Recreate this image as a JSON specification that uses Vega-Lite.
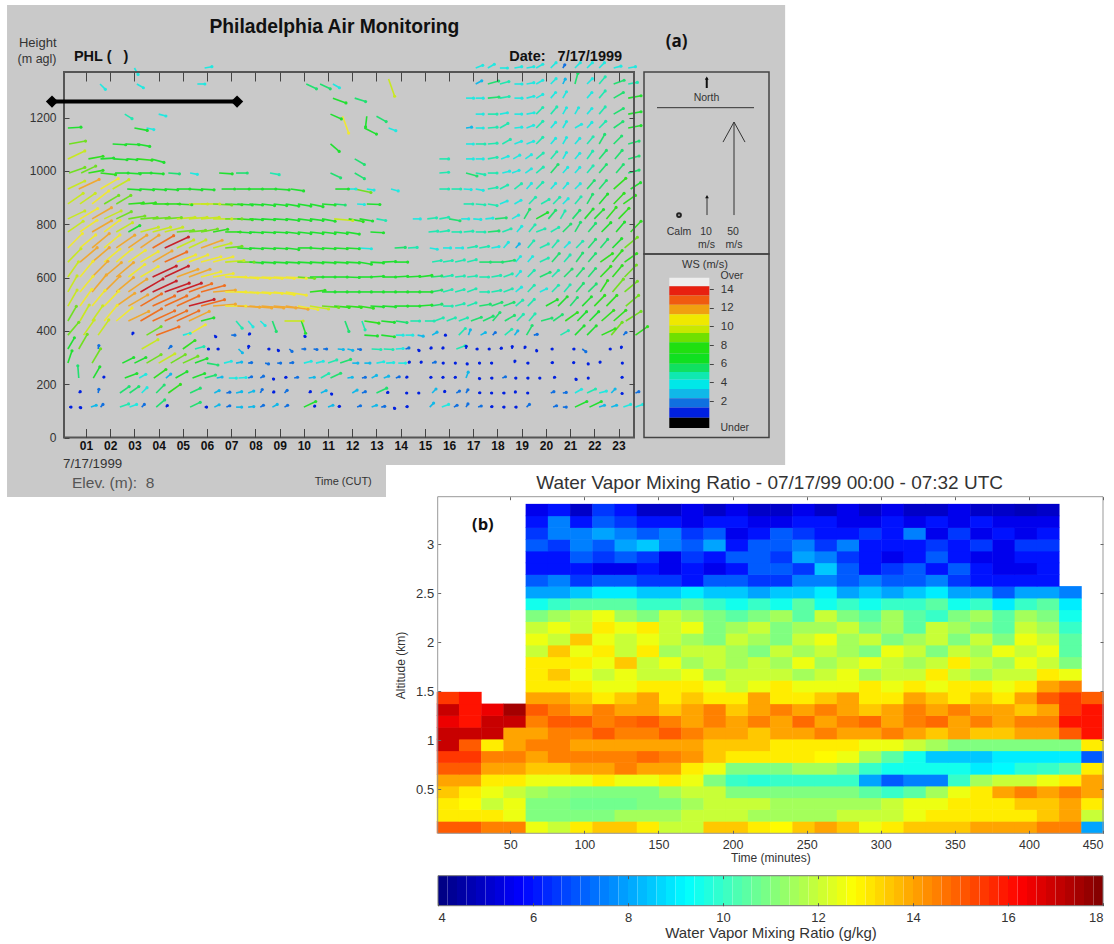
{"$schema":"https://vega.github.io/schema/vega-lite/v6.json","width":1114,"height":944,"autosize":"none","padding":0,"background":"white","data":{"values":[{}]},
"config":{"view":{"stroke":null},"font":"Liberation Sans","axis":{"grid":false,"title":null}},
"resolve":{"scale":{"x":"independent","y":"independent","color":"independent"},"axis":{"x":"independent","y":"independent"}},
"datasets":{"wind":[
{"t":0.3,"z":114,"e":0.38,"f":114,"s":1},{"t":0.7,"z":114,"e":0.78,"f":112,"s":1},{"t":1.2,"z":114,"e":1.42,"f":121,"s":3},{"t":1.6,"z":114,"e":1.7,"f":124,"s":2},{"t":2.4,"z":114,"e":2.76,"f":126,"s":5},{"t":2.8,"z":114,"e":3.09,"f":124,"s":4},{"t":3.3,"z":114,"e":3.41,"f":124,"s":2},{"t":3.9,"z":114,"e":4.25,"f":141,"s":6},{"t":4.3,"z":114,"e":4.36,"f":120,"s":1},{"t":5.3,"z":114,"e":5.72,"f":132,"s":6},{"t":5.9,"z":114,"e":5.98,"f":114,"s":1},{"t":6.3,"z":114,"e":6.5,"f":123,"s":3},{"t":6.8,"z":114,"e":6.94,"f":119,"s":2},{"t":7.2,"z":114,"e":7.43,"f":114,"s":3},{"t":7.7,"z":114,"e":7.93,"f":116,"s":3},{"t":8.2,"z":114,"e":8.33,"f":121,"s":2},{"t":8.7,"z":114,"e":8.9,"f":124,"s":3},{"t":9.2,"z":114,"e":9.33,"f":121,"s":2},{"t":10,"z":114,"e":10.49,"f":135,"s":7},{"t":10.4,"z":114,"e":10.45,"f":118,"s":1},{"t":11,"z":114,"e":11.2,"f":121,"s":3},{"t":11.4,"z":114,"e":11.47,"f":117,"s":1},{"t":12.2,"z":114,"e":12.34,"f":119,"s":2},{"t":12.8,"z":114,"e":13,"f":121,"s":3},{"t":13.2,"z":114,"e":13.34,"f":117,"s":2},{"t":13.7,"z":114,"e":13.75,"f":109,"s":1},{"t":14.2,"z":114,"e":14.27,"f":116,"s":1},{"t":15.2,"z":114,"e":15.36,"f":129,"s":3},{"t":15.7,"z":114,"e":15.98,"f":124,"s":4},{"t":16.2,"z":114,"e":16.33,"f":121,"s":2},{"t":16.7,"z":114,"e":16.78,"f":126,"s":2},{"t":17.2,"z":114,"e":17.33,"f":118,"s":2},{"t":17.7,"z":114,"e":17.77,"f":116,"s":1},{"t":18.2,"z":114,"e":18.27,"f":114,"s":1},{"t":18.7,"z":114,"e":18.77,"f":114,"s":1},{"t":19.2,"z":114,"e":19.32,"f":124,"s":2},{"t":20.3,"z":114,"e":20.44,"f":119,"s":2},{"t":20.7,"z":114,"e":20.84,"f":114,"s":2},{"t":21.2,"z":114,"e":21.69,"f":135,"s":7},{"t":21.8,"z":114,"e":22.29,"f":135,"s":7},{"t":22.2,"z":114,"e":22.42,"f":121,"s":3},{"t":22.7,"z":114,"e":22.92,"f":121,"s":3},{"t":23.2,"z":114,"e":23.5,"f":124,"s":4},{"t":23.7,"z":114,"e":24,"f":124,"s":4},
{"t":0.7,"z":167,"e":0.76,"f":172,"s":1},{"t":1.5,"z":167,"e":1.53,"f":181,"s":2},{"t":2.4,"z":167,"e":2.78,"f":191,"s":6},{"t":2.8,"z":167,"e":3.18,"f":191,"s":6},{"t":3.3,"z":167,"e":3.52,"f":187,"s":4},{"t":3.9,"z":167,"e":4.23,"f":197,"s":6},{"t":4.4,"z":167,"e":4.9,"f":199,"s":8},{"t":5.3,"z":167,"e":5.72,"f":185,"s":6},{"t":6.3,"z":167,"e":6.5,"f":176,"s":3},{"t":6.8,"z":167,"e":6.94,"f":170,"s":2},{"t":7.2,"z":167,"e":7.43,"f":172,"s":3},{"t":7.7,"z":167,"e":7.93,"f":174,"s":3},{"t":8.2,"z":167,"e":8.28,"f":180,"s":2},{"t":8.7,"z":167,"e":8.76,"f":171,"s":1},{"t":9.2,"z":167,"e":9.31,"f":177,"s":2},{"t":10.2,"z":167,"e":10.27,"f":172,"s":1},{"t":10.7,"z":167,"e":10.92,"f":176,"s":3},{"t":11.1,"z":167,"e":11.15,"f":163,"s":1},{"t":12,"z":167,"e":12.2,"f":178,"s":3},{"t":12.4,"z":167,"e":12.54,"f":172,"s":2},{"t":13,"z":167,"e":13.42,"f":185,"s":6},{"t":13.4,"z":167,"e":13.47,"f":169,"s":1},{"t":14.2,"z":167,"e":14.25,"f":167,"s":1},{"t":14.7,"z":167,"e":14.75,"f":167,"s":1},{"t":15.3,"z":167,"e":15.46,"f":182,"s":3},{"t":15.8,"z":167,"e":15.82,"f":173,"s":1},{"t":16.3,"z":167,"e":16.43,"f":174,"s":2},{"t":16.7,"z":167,"e":16.78,"f":179,"s":2},{"t":17.2,"z":167,"e":17.27,"f":168,"s":1},{"t":17.7,"z":167,"e":17.76,"f":167,"s":1},{"t":18.2,"z":167,"e":18.27,"f":167,"s":1},{"t":18.7,"z":167,"e":18.74,"f":171,"s":1},{"t":19.2,"z":167,"e":19.25,"f":167,"s":1},{"t":20.2,"z":167,"e":20.33,"f":172,"s":2},{"t":20.7,"z":167,"e":20.84,"f":169,"s":2},{"t":21.2,"z":167,"e":21.47,"f":181,"s":4},{"t":21.7,"z":167,"e":22.05,"f":182,"s":5},{"t":22.2,"z":167,"e":22.5,"f":174,"s":4},{"t":22.7,"z":167,"e":22.86,"f":182,"s":3},{"t":23.1,"z":167,"e":23.15,"f":165,"s":1},{"t":23.7,"z":167,"e":23.84,"f":172,"s":2},
{"t":0.7,"z":223,"e":0.66,"f":269,"s":6},{"t":1.3,"z":223,"e":1.57,"f":265,"s":7},{"t":1.7,"z":223,"e":1.74,"f":227,"s":1},{"t":2.6,"z":223,"e":3.1,"f":240,"s":7},{"t":3.2,"z":223,"e":3.47,"f":237,"s":4},{"t":3.8,"z":223,"e":4.3,"f":255,"s":8},{"t":4.3,"z":223,"e":4.5,"f":238,"s":3},{"t":4.7,"z":223,"e":5.17,"f":247,"s":7},{"t":5.4,"z":223,"e":5.9,"f":240,"s":7},{"t":5.9,"z":223,"e":6.35,"f":234,"s":6},{"t":6.4,"z":223,"e":6.62,"f":227,"s":3},{"t":6.9,"z":223,"e":7.21,"f":223,"s":4},{"t":7.3,"z":223,"e":7.61,"f":225,"s":4},{"t":7.7,"z":223,"e":7.84,"f":228,"s":2},{"t":8.2,"z":223,"e":8.33,"f":230,"s":2},{"t":8.7,"z":223,"e":8.75,"f":219,"s":1},{"t":9.2,"z":223,"e":9.26,"f":226,"s":1},{"t":9.6,"z":223,"e":9.74,"f":226,"s":2},{"t":10.2,"z":223,"e":10.43,"f":226,"s":3},{"t":10.7,"z":223,"e":11.03,"f":240,"s":5},{"t":11.1,"z":223,"e":11.52,"f":241,"s":6},{"t":11.8,"z":223,"e":12,"f":226,"s":3},{"t":12.4,"z":223,"e":12.54,"f":226,"s":2},{"t":12.8,"z":223,"e":13,"f":233,"s":3},{"t":13.3,"z":223,"e":13.5,"f":230,"s":3},{"t":13.8,"z":223,"e":13.94,"f":228,"s":2},{"t":14.2,"z":223,"e":14.26,"f":227,"s":1},{"t":15.2,"z":223,"e":15.25,"f":226,"s":1},{"t":15.7,"z":223,"e":15.75,"f":226,"s":1},{"t":16.2,"z":223,"e":16.26,"f":226,"s":1},{"t":16.7,"z":223,"e":16.79,"f":245,"s":3},{"t":17.2,"z":223,"e":17.26,"f":221,"s":1},{"t":17.7,"z":223,"e":17.77,"f":223,"s":1},{"t":18.2,"z":223,"e":18.33,"f":228,"s":2},{"t":18.7,"z":223,"e":18.76,"f":223,"s":1},{"t":19.2,"z":223,"e":19.26,"f":223,"s":1},{"t":19.7,"z":223,"e":19.75,"f":223,"s":1},{"t":20.3,"z":223,"e":20.36,"f":226,"s":1},{"t":21.2,"z":223,"e":21.25,"f":218,"s":1},{"t":21.7,"z":223,"e":21.75,"f":223,"s":1},{"t":23.1,"z":223,"e":23.15,"f":226,"s":1},
{"t":0.25,"z":279,"e":0.42,"f":325,"s":7},{"t":1.25,"z":279,"e":1.6,"f":333,"s":9},{"t":2.5,"z":279,"e":2.97,"f":300,"s":7},{"t":3,"z":279,"e":3.47,"f":300,"s":7},{"t":3.5,"z":279,"e":4.1,"f":311,"s":9},{"t":4,"z":279,"e":4.67,"f":314,"s":10},{"t":4.5,"z":279,"e":5.1,"f":311,"s":9},{"t":5,"z":279,"e":5.62,"f":305,"s":9},{"t":5.5,"z":279,"e":6,"f":296,"s":7},{"t":6,"z":279,"e":6.45,"f":272,"s":6},{"t":6.7,"z":279,"e":7,"f":286,"s":4},{"t":7.2,"z":279,"e":7.43,"f":283,"s":3},{"t":7.7,"z":279,"e":7.84,"f":281,"s":2},{"t":8.4,"z":279,"e":8.54,"f":276,"s":2},{"t":8.9,"z":279,"e":9.04,"f":279,"s":2},{"t":9.4,"z":279,"e":9.54,"f":281,"s":2},{"t":10,"z":279,"e":10.3,"f":286,"s":4},{"t":10.5,"z":279,"e":10.8,"f":286,"s":4},{"t":11,"z":279,"e":11.36,"f":291,"s":5},{"t":11.5,"z":279,"e":11.93,"f":293,"s":6},{"t":12,"z":279,"e":12.23,"f":279,"s":3},{"t":12.5,"z":279,"e":12.73,"f":279,"s":3},{"t":13,"z":279,"e":13.3,"f":284,"s":4},{"t":13.4,"z":279,"e":13.71,"f":281,"s":4},{"t":13.9,"z":279,"e":14.2,"f":279,"s":4},{"t":14.3,"z":279,"e":14.36,"f":283,"s":1},{"t":14.8,"z":279,"e":14.85,"f":283,"s":1},{"t":15.3,"z":279,"e":15.43,"f":283,"s":2},{"t":15.7,"z":279,"e":15.76,"f":279,"s":1},{"t":16.2,"z":279,"e":16.26,"f":279,"s":1},{"t":16.7,"z":279,"e":16.75,"f":276,"s":1},{"t":17.2,"z":279,"e":17.26,"f":279,"s":1},{"t":17.7,"z":279,"e":17.76,"f":279,"s":1},{"t":18.7,"z":279,"e":18.72,"f":287,"s":1},{"t":19.2,"z":279,"e":19.26,"f":279,"s":1},{"t":20.2,"z":279,"e":20.27,"f":281,"s":1},{"t":21.1,"z":279,"e":21.15,"f":281,"s":1},{"t":21.7,"z":279,"e":21.75,"f":276,"s":1},{"t":22.2,"z":279,"e":22.24,"f":283,"s":1},{"t":23.1,"z":279,"e":23.16,"f":279,"s":1},
{"t":0.25,"z":332,"e":0.52,"f":374,"s":7},{"t":0.7,"z":332,"e":1.05,"f":387,"s":9},{"t":1.5,"z":332,"e":1.53,"f":345,"s":2},{"t":3.3,"z":332,"e":3.97,"f":367,"s":10},{"t":4.4,"z":332,"e":4.51,"f":342,"s":2},{"t":5,"z":332,"e":5.5,"f":364,"s":8},{"t":5.5,"z":332,"e":5.87,"f":341,"s":5},{"t":6,"z":332,"e":6.06,"f":332,"s":1},{"t":6.4,"z":332,"e":6.46,"f":332,"s":1},{"t":7.3,"z":332,"e":7.46,"f":318,"s":3},{"t":7.7,"z":332,"e":7.72,"f":342,"s":1},{"t":8.5,"z":332,"e":8.56,"f":332,"s":1},{"t":8.9,"z":332,"e":8.95,"f":326,"s":1},{"t":9.4,"z":332,"e":9.51,"f":323,"s":2},{"t":9.9,"z":332,"e":10.04,"f":332,"s":2},{"t":10.4,"z":332,"e":10.54,"f":330,"s":2},{"t":10.8,"z":332,"e":10.94,"f":332,"s":2},{"t":11.4,"z":332,"e":11.63,"f":330,"s":3},{"t":11.8,"z":332,"e":12.02,"f":327,"s":3},{"t":12.2,"z":332,"e":12.34,"f":330,"s":2},{"t":12.8,"z":332,"e":13.18,"f":330,"s":5},{"t":13.3,"z":332,"e":13.68,"f":330,"s":5},{"t":13.8,"z":332,"e":14.1,"f":334,"s":4},{"t":14.2,"z":332,"e":14.34,"f":336,"s":2},{"t":14.7,"z":332,"e":14.76,"f":326,"s":1},{"t":15.2,"z":332,"e":15.26,"f":336,"s":1},{"t":15.7,"z":332,"e":15.75,"f":336,"s":1},{"t":16.3,"z":332,"e":16.66,"f":344,"s":5},{"t":16.7,"z":332,"e":16.71,"f":342,"s":1},{"t":17.1,"z":332,"e":17.16,"f":332,"s":1},{"t":17.6,"z":332,"e":17.66,"f":332,"s":1},{"t":18.1,"z":332,"e":18.16,"f":335,"s":1},{"t":18.6,"z":332,"e":18.61,"f":341,"s":1},{"t":19.1,"z":332,"e":19.14,"f":339,"s":1},{"t":19.6,"z":332,"e":19.62,"f":325,"s":1},{"t":20.2,"z":332,"e":20.26,"f":332,"s":1},{"t":21.1,"z":332,"e":21.16,"f":332,"s":1},{"t":21.5,"z":332,"e":21.65,"f":322,"s":2},{"t":22.6,"z":332,"e":22.66,"f":332,"s":1},{"t":23.1,"z":332,"e":23.12,"f":339,"s":1},
{"t":0.25,"z":384,"e":0.7,"f":432,"s":9},{"t":0.9,"z":384,"e":1.34,"f":441,"s":10},{"t":1.5,"z":384,"e":1.94,"f":441,"s":10},{"t":2.9,"z":384,"e":2.94,"f":392,"s":1},{"t":3.5,"z":384,"e":4.1,"f":416,"s":9},{"t":3.9,"z":384,"e":4.84,"f":415,"s":13},{"t":5,"z":384,"e":5.3,"f":391,"s":4},{"t":5.2,"z":384,"e":5.93,"f":423,"s":11},{"t":6.3,"z":384,"e":6.36,"f":378,"s":1},{"t":7,"z":384,"e":7.15,"f":384,"s":2},{"t":7.7,"z":384,"e":7.76,"f":389,"s":1},{"t":10,"z":384,"e":10.05,"f":379,"s":1},{"t":12.5,"z":384,"e":13.04,"f":381,"s":7},{"t":13.2,"z":384,"e":13.74,"f":378,"s":7},{"t":13.8,"z":384,"e":14.1,"f":384,"s":4},{"t":14.2,"z":384,"e":14.5,"f":384,"s":4},{"t":14.7,"z":384,"e":14.93,"f":380,"s":3},{"t":15.3,"z":384,"e":15.5,"f":395,"s":3},{"t":15.8,"z":384,"e":15.85,"f":384,"s":1},{"t":16.4,"z":384,"e":16.67,"f":409,"s":5},{"t":16.8,"z":384,"e":16.88,"f":404,"s":3},{"t":17.3,"z":384,"e":17.5,"f":394,"s":3},{"t":17.8,"z":384,"e":17.91,"f":394,"s":2},{"t":18.3,"z":384,"e":18.59,"f":406,"s":5},{"t":18.7,"z":384,"e":18.84,"f":400,"s":3},{"t":19.2,"z":384,"e":19.43,"f":420,"s":6},{"t":19.5,"z":384,"e":19.64,"f":387,"s":2},{"t":20.6,"z":384,"e":20.93,"f":401,"s":5},{"t":21.2,"z":384,"e":21.58,"f":419,"s":7},{"t":21.7,"z":384,"e":22.08,"f":419,"s":7},{"t":22.3,"z":384,"e":22.86,"f":408,"s":8},{"t":22.7,"z":384,"e":23.15,"f":432,"s":9},{"t":23.2,"z":384,"e":23.31,"f":394,"s":2},{"t":23.7,"z":384,"e":24.2,"f":416,"s":8},
{"t":0.25,"z":437,"e":0.6,"f":492,"s":9},{"t":0.75,"z":437,"e":1.13,"f":497,"s":10},{"t":1.25,"z":437,"e":1.69,"f":494,"s":10},{"t":1.75,"z":437,"e":2.29,"f":496,"s":11},{"t":2.25,"z":437,"e":2.9,"f":486,"s":11},{"t":2.75,"z":437,"e":3.59,"f":473,"s":12},{"t":3.25,"z":437,"e":4.12,"f":483,"s":13},{"t":3.75,"z":437,"e":4.66,"f":475,"s":13},{"t":4.25,"z":437,"e":5.16,"f":475,"s":13},{"t":4.75,"z":437,"e":5.66,"f":475,"s":13},{"t":5.25,"z":437,"e":6.09,"f":473,"s":12},{"t":5.75,"z":437,"e":6.28,"f":449,"s":7},{"t":7.2,"z":437,"e":7.45,"f":410,"s":5},{"t":7.7,"z":437,"e":7.9,"f":415,"s":4},{"t":8.2,"z":437,"e":8.4,"f":420,"s":4},{"t":8.7,"z":437,"e":8.86,"f":398,"s":6},{"t":9.2,"z":437,"e":9.97,"f":437,"s":10},{"t":9.9,"z":437,"e":10.07,"f":391,"s":7},{"t":11.7,"z":437,"e":11.86,"f":398,"s":6},{"t":12.4,"z":437,"e":12.53,"f":404,"s":5},{"t":12.5,"z":437,"e":13.1,"f":429,"s":8},{"t":13.2,"z":437,"e":13.74,"f":432,"s":7},{"t":13.8,"z":437,"e":14.26,"f":431,"s":6},{"t":14.4,"z":437,"e":14.78,"f":437,"s":5},{"t":15,"z":437,"e":15.38,"f":437,"s":5},{"t":15.4,"z":437,"e":15.76,"f":449,"s":5},{"t":15.9,"z":437,"e":16.26,"f":449,"s":5},{"t":16.4,"z":437,"e":16.76,"f":449,"s":5},{"t":16.9,"z":437,"e":17.33,"f":451,"s":6},{"t":17.4,"z":437,"e":17.82,"f":455,"s":6},{"t":17.8,"z":437,"e":18.1,"f":469,"s":6},{"t":18.3,"z":437,"e":18.7,"f":458,"s":6},{"t":18.8,"z":437,"e":19.07,"f":462,"s":5},{"t":19.3,"z":437,"e":19.55,"f":464,"s":5},{"t":19.8,"z":437,"e":20.25,"f":448,"s":6},{"t":20.3,"z":437,"e":20.68,"f":461,"s":6},{"t":20.8,"z":437,"e":21.3,"f":469,"s":8},{"t":21.3,"z":437,"e":21.68,"f":472,"s":7},{"t":21.8,"z":437,"e":22.18,"f":472,"s":7},{"t":22.3,"z":437,"e":22.8,"f":477,"s":8},{"t":22.8,"z":437,"e":23.3,"f":477,"s":8},{"t":23.3,"z":437,"e":23.93,"f":473,"s":9},
{"t":0.25,"z":493,"e":0.63,"f":553,"s":10},{"t":0.75,"z":493,"e":1.24,"f":556,"s":11},{"t":1.25,"z":493,"e":1.79,"f":552,"s":11},{"t":1.75,"z":493,"e":2.35,"f":549,"s":11},{"t":2.25,"z":493,"e":3.01,"f":541,"s":12},{"t":2.75,"z":493,"e":3.55,"f":535,"s":12},{"t":3.25,"z":493,"e":4.12,"f":539,"s":13},{"t":3.75,"z":493,"e":4.66,"f":531,"s":13},{"t":4.25,"z":493,"e":5.16,"f":531,"s":13},{"t":4.75,"z":493,"e":5.66,"f":531,"s":13},{"t":5.25,"z":493,"e":6.29,"f":518,"s":14},{"t":5.75,"z":493,"e":6.72,"f":517,"s":13},{"t":6.25,"z":493,"e":7.17,"f":500,"s":12},{"t":6.75,"z":493,"e":7.6,"f":493,"s":11},{"t":7.25,"z":493,"e":8.17,"f":489,"s":12},{"t":7.75,"z":493,"e":8.67,"f":486,"s":12},{"t":8.25,"z":493,"e":9.17,"f":486,"s":12},{"t":8.75,"z":493,"e":9.67,"f":486,"s":12},{"t":9.25,"z":493,"e":10.17,"f":481,"s":12},{"t":9.75,"z":493,"e":10.58,"f":480,"s":11},{"t":10.25,"z":493,"e":11.02,"f":482,"s":10},{"t":10.75,"z":493,"e":11.44,"f":488,"s":9},{"t":11.25,"z":493,"e":11.87,"f":488,"s":8},{"t":11.75,"z":493,"e":12.37,"f":488,"s":8},{"t":12.25,"z":493,"e":12.87,"f":485,"s":8},{"t":12.75,"z":493,"e":13.29,"f":490,"s":7},{"t":13.25,"z":493,"e":13.79,"f":490,"s":7},{"t":13.75,"z":493,"e":14.29,"f":493,"s":7},{"t":14.25,"z":493,"e":14.79,"f":493,"s":7},{"t":14.75,"z":493,"e":15.29,"f":497,"s":7},{"t":15.25,"z":493,"e":15.7,"f":500,"s":6},{"t":15.75,"z":493,"e":16.13,"f":493,"s":5},{"t":16.25,"z":493,"e":16.62,"f":502,"s":5},{"t":16.75,"z":493,"e":17.11,"f":505,"s":5},{"t":17.25,"z":493,"e":17.7,"f":500,"s":6},{"t":17.75,"z":493,"e":18.18,"f":507,"s":6},{"t":18.25,"z":493,"e":18.68,"f":507,"s":6},{"t":18.75,"z":493,"e":19.04,"f":515,"s":5},{"t":19.25,"z":493,"e":19.52,"f":518,"s":5},{"t":20,"z":493,"e":20.47,"f":517,"s":7},{"t":20.5,"z":493,"e":20.88,"f":528,"s":7},{"t":21,"z":493,"e":21.3,"f":525,"s":6},{"t":21.5,"z":493,"e":21.88,"f":528,"s":7},{"t":22,"z":493,"e":22.43,"f":533,"s":8},{"t":22.5,"z":493,"e":22.93,"f":533,"s":8},{"t":23.3,"z":493,"e":23.83,"f":533,"s":9},
{"t":0.25,"z":546,"e":0.63,"f":606,"s":10},{"t":0.75,"z":546,"e":1.29,"f":605,"s":11},{"t":1.25,"z":546,"e":1.84,"f":610,"s":12},{"t":1.75,"z":546,"e":2.4,"f":605,"s":12},{"t":2.25,"z":546,"e":2.96,"f":600,"s":12},{"t":2.75,"z":546,"e":3.51,"f":594,"s":12},{"t":3.25,"z":546,"e":4.18,"f":595,"s":14},{"t":3.75,"z":546,"e":4.73,"f":587,"s":14},{"t":4.25,"z":546,"e":5.26,"f":579,"s":14},{"t":4.75,"z":546,"e":5.76,"f":579,"s":14},{"t":5.25,"z":546,"e":6.19,"f":577,"s":13},{"t":5.75,"z":546,"e":6.72,"f":570,"s":13},{"t":6.25,"z":546,"e":7.17,"f":553,"s":12},{"t":6.75,"z":546,"e":7.6,"f":546,"s":11},{"t":7.25,"z":546,"e":8.1,"f":542,"s":11},{"t":7.75,"z":546,"e":8.6,"f":540,"s":11},{"t":8.25,"z":546,"e":9.1,"f":540,"s":11},{"t":8.75,"z":546,"e":9.6,"f":536,"s":11},{"t":9.25,"z":546,"e":10.1,"f":534,"s":11},{"t":10.25,"z":546,"e":10.87,"f":552,"s":8},{"t":10.75,"z":546,"e":11.29,"f":546,"s":7},{"t":11.25,"z":546,"e":11.79,"f":546,"s":7},{"t":11.75,"z":546,"e":12.29,"f":546,"s":7},{"t":12.25,"z":546,"e":12.79,"f":546,"s":7},{"t":12.75,"z":546,"e":13.29,"f":546,"s":7},{"t":13.25,"z":546,"e":13.79,"f":546,"s":7},{"t":13.75,"z":546,"e":14.29,"f":546,"s":7},{"t":14.25,"z":546,"e":14.79,"f":546,"s":7},{"t":14.75,"z":546,"e":15.29,"f":546,"s":7},{"t":15.25,"z":546,"e":15.7,"f":553,"s":6},{"t":15.75,"z":546,"e":16.12,"f":555,"s":5},{"t":16.25,"z":546,"e":16.62,"f":555,"s":5},{"t":16.75,"z":546,"e":17.11,"f":558,"s":5},{"t":17.25,"z":546,"e":17.63,"f":546,"s":5},{"t":17.75,"z":546,"e":18.13,"f":552,"s":5},{"t":18.25,"z":546,"e":18.61,"f":558,"s":5},{"t":18.75,"z":546,"e":18.99,"f":564,"s":4},{"t":19.25,"z":546,"e":19.52,"f":571,"s":5},{"t":19.75,"z":546,"e":20.03,"f":558,"s":4},{"t":20.25,"z":546,"e":20.52,"f":571,"s":5},{"t":20.75,"z":546,"e":21,"f":573,"s":5},{"t":21.25,"z":546,"e":21.55,"f":578,"s":6},{"t":21.75,"z":546,"e":22.08,"f":576,"s":6},{"t":22.25,"z":546,"e":22.55,"f":589,"s":8},{"t":22.75,"z":546,"e":23.2,"f":594,"s":9},{"t":23.25,"z":546,"e":23.78,"f":586,"s":9},
{"t":0.25,"z":602,"e":0.69,"f":659,"s":10},{"t":0.75,"z":602,"e":1.29,"f":661,"s":11},{"t":1.25,"z":602,"e":1.9,"f":661,"s":12},{"t":1.75,"z":602,"e":2.46,"f":656,"s":12},{"t":2.25,"z":602,"e":2.96,"f":656,"s":12},{"t":2.75,"z":602,"e":3.43,"f":649,"s":11},{"t":3.25,"z":602,"e":3.98,"f":641,"s":11},{"t":3.75,"z":602,"e":4.73,"f":643,"s":14},{"t":4.25,"z":602,"e":5.23,"f":643,"s":14},{"t":4.75,"z":602,"e":5.62,"f":631,"s":12},{"t":5.25,"z":602,"e":6.12,"f":631,"s":12},{"t":5.75,"z":602,"e":6.57,"f":622,"s":11},{"t":6.25,"z":602,"e":7.08,"f":615,"s":11},{"t":6.75,"z":602,"e":7.6,"f":602,"s":11},{"t":7.25,"z":602,"e":8.1,"f":597,"s":11},{"t":7.75,"z":602,"e":8.6,"f":597,"s":11},{"t":8.25,"z":602,"e":9.1,"f":597,"s":11},{"t":8.75,"z":602,"e":9.6,"f":597,"s":11},{"t":9.25,"z":602,"e":10.1,"f":597,"s":11},{"t":9.75,"z":602,"e":10.44,"f":597,"s":9},{"t":10.25,"z":602,"e":10.79,"f":602,"s":7},{"t":10.75,"z":602,"e":11.29,"f":602,"s":7},{"t":11.25,"z":602,"e":11.79,"f":602,"s":7},{"t":11.75,"z":602,"e":12.29,"f":600,"s":7},{"t":12.25,"z":602,"e":12.79,"f":602,"s":7},{"t":12.75,"z":602,"e":13.29,"f":605,"s":7},{"t":13.25,"z":602,"e":13.79,"f":602,"s":7},{"t":13.75,"z":602,"e":14.29,"f":605,"s":7},{"t":14.25,"z":602,"e":14.79,"f":605,"s":7},{"t":14.75,"z":602,"e":15.29,"f":608,"s":7},{"t":15.25,"z":602,"e":15.7,"f":606,"s":6},{"t":15.75,"z":602,"e":16.13,"f":608,"s":5},{"t":16.25,"z":602,"e":16.63,"f":606,"s":5},{"t":16.75,"z":602,"e":17.13,"f":606,"s":5},{"t":17.25,"z":602,"e":17.63,"f":602,"s":5},{"t":17.75,"z":602,"e":18.13,"f":608,"s":5},{"t":18.25,"z":602,"e":18.61,"f":614,"s":5},{"t":18.75,"z":602,"e":18.95,"f":623,"s":4},{"t":19.25,"z":602,"e":19.52,"f":627,"s":5},{"t":19.75,"z":602,"e":20.17,"f":620,"s":6},{"t":20.25,"z":602,"e":20.52,"f":627,"s":5},{"t":20.75,"z":602,"e":21.08,"f":632,"s":6},{"t":21.25,"z":602,"e":21.55,"f":634,"s":6},{"t":21.75,"z":602,"e":22.05,"f":634,"s":6},{"t":22.25,"z":602,"e":22.68,"f":642,"s":8},{"t":22.75,"z":602,"e":23.15,"f":645,"s":8},{"t":23.25,"z":602,"e":23.74,"f":647,"s":9},
{"t":0.25,"z":658,"e":0.79,"f":708,"s":10},{"t":0.75,"z":658,"e":1.46,"f":712,"s":12},{"t":1.25,"z":658,"e":1.96,"f":712,"s":12},{"t":1.75,"z":658,"e":2.4,"f":707,"s":11},{"t":2.25,"z":658,"e":2.9,"f":707,"s":11},{"t":2.75,"z":658,"e":3.45,"f":702,"s":11},{"t":3.25,"z":658,"e":3.98,"f":697,"s":11},{"t":3.75,"z":658,"e":4.55,"f":700,"s":12},{"t":4.25,"z":658,"e":5.16,"f":696,"s":13},{"t":4.75,"z":658,"e":5.53,"f":685,"s":11},{"t":5.25,"z":658,"e":6.03,"f":685,"s":11},{"t":5.75,"z":658,"e":6.57,"f":678,"s":11},{"t":6.25,"z":658,"e":7.07,"f":678,"s":11},{"t":6.75,"z":658,"e":7.52,"f":664,"s":10},{"t":7.25,"z":658,"e":7.94,"f":658,"s":9},{"t":7.75,"z":658,"e":8.29,"f":655,"s":7},{"t":8.25,"z":658,"e":8.79,"f":655,"s":7},{"t":8.75,"z":658,"e":9.29,"f":655,"s":7},{"t":9.25,"z":658,"e":9.79,"f":655,"s":7},{"t":9.75,"z":658,"e":10.29,"f":655,"s":7},{"t":10.25,"z":658,"e":10.79,"f":655,"s":7},{"t":10.75,"z":658,"e":11.29,"f":655,"s":7},{"t":11.25,"z":658,"e":11.79,"f":655,"s":7},{"t":11.75,"z":658,"e":12.29,"f":655,"s":7},{"t":12.25,"z":658,"e":12.79,"f":650,"s":7},{"t":12.75,"z":658,"e":13.29,"f":655,"s":7},{"t":13.25,"z":658,"e":13.79,"f":660,"s":7},{"t":13.75,"z":658,"e":14.29,"f":658,"s":7},{"t":15.3,"z":658,"e":15.67,"f":664,"s":5},{"t":15.75,"z":658,"e":16.13,"f":664,"s":5},{"t":16.25,"z":658,"e":16.63,"f":666,"s":5},{"t":16.75,"z":658,"e":17.12,"f":667,"s":5},{"t":17.25,"z":658,"e":17.71,"f":658,"s":6},{"t":17.75,"z":658,"e":18.21,"f":658,"s":6},{"t":18.25,"z":658,"e":18.7,"f":665,"s":6},{"t":18.75,"z":658,"e":18.95,"f":679,"s":4},{"t":19.25,"z":658,"e":19.45,"f":679,"s":4},{"t":19.75,"z":658,"e":20.1,"f":673,"s":5},{"t":20.25,"z":658,"e":20.55,"f":690,"s":6},{"t":20.75,"z":658,"e":21,"f":685,"s":5},{"t":21.25,"z":658,"e":21.52,"f":692,"s":6},{"t":21.75,"z":658,"e":22.05,"f":690,"s":6},{"t":22.25,"z":658,"e":22.75,"f":690,"s":8},{"t":22.75,"z":658,"e":23.15,"f":701,"s":8},{"t":23.25,"z":658,"e":23.75,"f":690,"s":8},
{"t":0.25,"z":711,"e":0.85,"f":765,"s":11},{"t":0.75,"z":711,"e":1.4,"f":760,"s":11},{"t":1.25,"z":711,"e":1.96,"f":765,"s":12},{"t":1.75,"z":711,"e":2.4,"f":760,"s":11},{"t":2.25,"z":711,"e":3.01,"f":759,"s":12},{"t":2.75,"z":711,"e":3.51,"f":759,"s":12},{"t":3.25,"z":711,"e":4.01,"f":759,"s":12},{"t":3.75,"z":711,"e":4.62,"f":757,"s":13},{"t":4.25,"z":711,"e":5.23,"f":752,"s":14},{"t":4.75,"z":711,"e":5.45,"f":741,"s":10},{"t":5.25,"z":711,"e":5.95,"f":741,"s":10},{"t":5.75,"z":711,"e":6.62,"f":740,"s":12},{"t":6.25,"z":711,"e":6.99,"f":729,"s":10},{"t":6.75,"z":711,"e":7.44,"f":717,"s":9},{"t":7.25,"z":711,"e":7.79,"f":708,"s":7},{"t":7.75,"z":711,"e":8.29,"f":708,"s":7},{"t":8.25,"z":711,"e":8.79,"f":708,"s":7},{"t":8.75,"z":711,"e":9.29,"f":708,"s":7},{"t":9.25,"z":711,"e":9.79,"f":705,"s":7},{"t":9.75,"z":711,"e":10.29,"f":711,"s":7},{"t":10.25,"z":711,"e":10.79,"f":708,"s":7},{"t":10.75,"z":711,"e":11.29,"f":708,"s":7},{"t":11.25,"z":711,"e":11.79,"f":708,"s":7},{"t":11.75,"z":711,"e":12.29,"f":708,"s":7},{"t":12.25,"z":711,"e":12.79,"f":708,"s":4},{"t":13.75,"z":711,"e":14.19,"f":713,"s":6},{"t":14.3,"z":711,"e":14.68,"f":713,"s":5},{"t":15.2,"z":711,"e":15.51,"f":706,"s":4},{"t":15.75,"z":711,"e":16.06,"f":711,"s":4},{"t":16.25,"z":711,"e":16.56,"f":711,"s":4},{"t":16.75,"z":711,"e":17.13,"f":717,"s":5},{"t":17.25,"z":711,"e":17.63,"f":717,"s":5},{"t":17.75,"z":711,"e":18.06,"f":716,"s":4},{"t":18.25,"z":711,"e":18.45,"f":732,"s":4},{"t":18.75,"z":711,"e":18.9,"f":726,"s":3},{"t":19.25,"z":711,"e":19.5,"f":738,"s":5},{"t":19.75,"z":711,"e":20.1,"f":726,"s":5},{"t":20.25,"z":711,"e":20.5,"f":738,"s":5},{"t":20.75,"z":711,"e":20.97,"f":731,"s":4},{"t":21.25,"z":711,"e":21.52,"f":736,"s":5},{"t":21.75,"z":711,"e":22.05,"f":743,"s":6},{"t":22.25,"z":711,"e":22.55,"f":743,"s":6},{"t":22.75,"z":711,"e":23.13,"f":746,"s":7},{"t":23.25,"z":711,"e":23.78,"f":751,"s":9},
{"t":0.25,"z":771,"e":0.88,"f":811,"s":10},{"t":0.75,"z":771,"e":1.45,"f":815,"s":11},{"t":1.25,"z":771,"e":2.05,"f":813,"s":12},{"t":1.75,"z":771,"e":2.4,"f":815,"s":11},{"t":2.25,"z":771,"e":2.92,"f":806,"s":10},{"t":2.75,"z":771,"e":3.22,"f":795,"s":7},{"t":3.25,"z":771,"e":3.99,"f":789,"s":10},{"t":3.75,"z":771,"e":4.49,"f":789,"s":10},{"t":4.25,"z":771,"e":4.99,"f":789,"s":10},{"t":4.75,"z":771,"e":5.44,"f":777,"s":9},{"t":5.25,"z":771,"e":5.94,"f":777,"s":9},{"t":5.75,"z":771,"e":6.43,"f":782,"s":9},{"t":6.25,"z":771,"e":6.85,"f":781,"s":8},{"t":6.75,"z":771,"e":7.37,"f":771,"s":8},{"t":7.25,"z":771,"e":7.79,"f":768,"s":7},{"t":7.75,"z":771,"e":8.29,"f":768,"s":7},{"t":8.25,"z":771,"e":8.79,"f":768,"s":7},{"t":8.75,"z":771,"e":9.29,"f":768,"s":7},{"t":9.25,"z":771,"e":9.79,"f":765,"s":7},{"t":9.75,"z":771,"e":10.29,"f":765,"s":7},{"t":10.25,"z":771,"e":10.79,"f":765,"s":7},{"t":10.75,"z":771,"e":11.29,"f":765,"s":7},{"t":11.25,"z":771,"e":11.79,"f":765,"s":7},{"t":11.75,"z":771,"e":12.29,"f":763,"s":7},{"t":12.75,"z":771,"e":13.29,"f":768,"s":7},{"t":15.15,"z":771,"e":15.53,"f":774,"s":5},{"t":15.6,"z":771,"e":15.98,"f":776,"s":5},{"t":16.1,"z":771,"e":16.48,"f":771,"s":5},{"t":16.6,"z":771,"e":16.98,"f":774,"s":5},{"t":17.1,"z":771,"e":17.48,"f":771,"s":5},{"t":17.6,"z":771,"e":18.06,"f":775,"s":6},{"t":18.2,"z":771,"e":18.56,"f":783,"s":5},{"t":18.8,"z":771,"e":19,"f":792,"s":4},{"t":19.3,"z":771,"e":19.55,"f":798,"s":5},{"t":19.6,"z":771,"e":19.96,"f":783,"s":5},{"t":20.2,"z":771,"e":20.53,"f":788,"s":5},{"t":20.7,"z":771,"e":21.03,"f":801,"s":6},{"t":21.2,"z":771,"e":21.43,"f":807,"s":6},{"t":21.75,"z":771,"e":22.05,"f":803,"s":6},{"t":22.3,"z":771,"e":22.68,"f":806,"s":7},{"t":22.9,"z":771,"e":23.25,"f":808,"s":7},{"t":23.5,"z":771,"e":23.93,"f":811,"s":8},
{"t":0.25,"z":820,"e":0.95,"f":850,"s":10},{"t":0.75,"z":820,"e":1.48,"f":859,"s":11},{"t":1.25,"z":820,"e":2.05,"f":862,"s":12},{"t":1.75,"z":820,"e":2.45,"f":850,"s":10},{"t":2.25,"z":820,"e":2.87,"f":847,"s":9},{"t":2.75,"z":820,"e":3.43,"f":831,"s":9},{"t":3.25,"z":820,"e":3.94,"f":825,"s":9},{"t":3.75,"z":820,"e":4.44,"f":825,"s":9},{"t":4.25,"z":820,"e":4.94,"f":825,"s":9},{"t":4.75,"z":820,"e":5.5,"f":826,"s":10},{"t":5.25,"z":820,"e":6,"f":826,"s":10},{"t":5.75,"z":820,"e":6.5,"f":826,"s":10},{"t":6.25,"z":820,"e":7.02,"f":820,"s":10},{"t":6.75,"z":820,"e":7.44,"f":820,"s":9},{"t":7.25,"z":820,"e":7.87,"f":817,"s":8},{"t":7.75,"z":820,"e":8.29,"f":817,"s":7},{"t":8.25,"z":820,"e":8.79,"f":817,"s":7},{"t":8.75,"z":820,"e":9.29,"f":817,"s":7},{"t":9.25,"z":820,"e":9.79,"f":814,"s":7},{"t":9.75,"z":820,"e":10.29,"f":814,"s":7},{"t":10.25,"z":820,"e":10.79,"f":814,"s":7},{"t":10.75,"z":820,"e":11.29,"f":811,"s":7},{"t":11.25,"z":820,"e":12.02,"f":814,"s":10},{"t":11.85,"z":820,"e":12.45,"f":810,"s":8},{"t":12.3,"z":820,"e":12.84,"f":812,"s":7},{"t":13,"z":820,"e":13.38,"f":814,"s":5},{"t":14.5,"z":820,"e":14.81,"f":820,"s":4},{"t":15.1,"z":820,"e":15.48,"f":824,"s":5},{"t":15.6,"z":820,"e":15.98,"f":826,"s":5},{"t":16,"z":820,"e":16.45,"f":813,"s":6},{"t":16.5,"z":820,"e":16.81,"f":820,"s":4},{"t":17,"z":820,"e":17.31,"f":818,"s":4},{"t":17.5,"z":820,"e":17.81,"f":823,"s":4},{"t":17.9,"z":820,"e":18.36,"f":824,"s":6},{"t":18.6,"z":820,"e":18.87,"f":834,"s":4},{"t":19.1,"z":820,"e":19.33,"f":856,"s":6},{"t":19.6,"z":820,"e":20.07,"f":844,"s":7},{"t":20.1,"z":820,"e":20.4,"f":852,"s":6},{"t":20.6,"z":820,"e":20.79,"f":850,"s":5},{"t":21.1,"z":820,"e":21.4,"f":852,"s":6},{"t":21.6,"z":820,"e":21.95,"f":857,"s":7},{"t":22,"z":820,"e":22.38,"f":855,"s":7},{"t":22.5,"z":820,"e":22.9,"f":863,"s":8},{"t":23,"z":820,"e":23.43,"f":860,"s":8},
{"t":0.25,"z":876,"e":0.88,"f":916,"s":10},{"t":0.75,"z":876,"e":1.38,"f":916,"s":10},{"t":1.25,"z":876,"e":1.94,"f":925,"s":11},{"t":1.75,"z":876,"e":2.35,"f":908,"s":9},{"t":2.25,"z":876,"e":2.85,"f":908,"s":9},{"t":2.75,"z":876,"e":3.37,"f":880,"s":8},{"t":3.25,"z":876,"e":3.87,"f":880,"s":8},{"t":3.75,"z":876,"e":4.37,"f":876,"s":8},{"t":4.25,"z":876,"e":4.87,"f":876,"s":8},{"t":4.75,"z":876,"e":5.37,"f":873,"s":8},{"t":5.25,"z":876,"e":6.02,"f":876,"s":10},{"t":5.75,"z":876,"e":6.52,"f":876,"s":10},{"t":6.25,"z":876,"e":7.02,"f":872,"s":9},{"t":6.75,"z":876,"e":7.44,"f":873,"s":8},{"t":7.25,"z":876,"e":7.87,"f":872,"s":7},{"t":7.75,"z":876,"e":8.29,"f":872,"s":7},{"t":8.25,"z":876,"e":8.79,"f":870,"s":7},{"t":8.75,"z":876,"e":9.29,"f":870,"s":7},{"t":9.25,"z":876,"e":9.79,"f":868,"s":7},{"t":9.75,"z":876,"e":10.29,"f":868,"s":7},{"t":10.25,"z":876,"e":10.79,"f":866,"s":7},{"t":10.75,"z":876,"e":11.29,"f":872,"s":7},{"t":11.25,"z":876,"e":11.71,"f":872,"s":6},{"t":12.2,"z":876,"e":12.5,"f":874,"s":4},{"t":12.6,"z":876,"e":13.14,"f":874,"s":7},{"t":16.6,"z":876,"e":16.98,"f":876,"s":5},{"t":17.1,"z":876,"e":17.48,"f":873,"s":5},{"t":17.6,"z":876,"e":17.98,"f":870,"s":5},{"t":18.1,"z":876,"e":18.4,"f":887,"s":4},{"t":18.7,"z":876,"e":18.97,"f":890,"s":4},{"t":19.3,"z":876,"e":19.57,"f":901,"s":5},{"t":19.8,"z":876,"e":20.13,"f":893,"s":5},{"t":20.3,"z":876,"e":20.57,"f":901,"s":5},{"t":20.7,"z":876,"e":20.92,"f":896,"s":4},{"t":21.2,"z":876,"e":21.45,"f":903,"s":5},{"t":21.7,"z":876,"e":21.93,"f":912,"s":6},{"t":22.2,"z":876,"e":22.55,"f":913,"s":7},{"t":22.8,"z":876,"e":23.23,"f":916,"s":8},{"t":23.2,"z":876,"e":23.7,"f":908,"s":8},
{"t":0.25,"z":932,"e":0.95,"f":962,"s":10},{"t":0.7,"z":932,"e":1.54,"f":968,"s":12},{"t":1.6,"z":932,"e":2.33,"f":971,"s":11},{"t":2.1,"z":932,"e":2.77,"f":967,"s":10},{"t":2.7,"z":932,"e":3.24,"f":929,"s":7},{"t":3.25,"z":932,"e":3.79,"f":929,"s":7},{"t":3.75,"z":932,"e":4.29,"f":929,"s":7},{"t":4.25,"z":932,"e":4.79,"f":929,"s":7},{"t":4.75,"z":932,"e":5.29,"f":932,"s":7},{"t":5.25,"z":932,"e":5.79,"f":929,"s":7},{"t":5.75,"z":932,"e":6.29,"f":929,"s":7},{"t":6.6,"z":932,"e":7.14,"f":932,"s":7},{"t":7.2,"z":932,"e":7.74,"f":932,"s":7},{"t":7.75,"z":932,"e":8.29,"f":932,"s":7},{"t":8.3,"z":932,"e":8.84,"f":932,"s":7},{"t":8.85,"z":932,"e":9.39,"f":929,"s":7},{"t":9.45,"z":932,"e":9.99,"f":925,"s":7},{"t":11.3,"z":932,"e":11.84,"f":932,"s":7},{"t":11.85,"z":932,"e":12.15,"f":932,"s":4},{"t":12.1,"z":932,"e":12.77,"f":919,"s":9},{"t":12.6,"z":932,"e":12.9,"f":928,"s":4},{"t":13.6,"z":932,"e":13.9,"f":925,"s":4},{"t":15.6,"z":932,"e":15.98,"f":932,"s":5},{"t":16.1,"z":932,"e":16.48,"f":932,"s":5},{"t":16.6,"z":932,"e":16.91,"f":930,"s":4},{"t":17.1,"z":932,"e":17.41,"f":927,"s":4},{"t":17.6,"z":932,"e":17.98,"f":938,"s":5},{"t":18.1,"z":932,"e":18.42,"f":947,"s":5},{"t":18.7,"z":932,"e":18.99,"f":952,"s":5},{"t":19.2,"z":932,"e":19.4,"f":953,"s":4},{"t":19.6,"z":932,"e":19.87,"f":957,"s":5},{"t":20.2,"z":932,"e":20.4,"f":953,"s":4},{"t":20.7,"z":932,"e":20.9,"f":953,"s":4},{"t":21.2,"z":932,"e":21.42,"f":952,"s":4},{"t":21.7,"z":932,"e":22,"f":964,"s":6},{"t":22.2,"z":932,"e":22.5,"f":964,"s":6},{"t":22.8,"z":932,"e":23.3,"f":972,"s":8},{"t":23.5,"z":932,"e":23.91,"f":956,"s":7},
{"t":0.3,"z":992,"e":0.95,"f":1013,"s":9},{"t":0.8,"z":992,"e":1.4,"f":1018,"s":9},{"t":1.1,"z":992,"e":1.7,"f":1002,"s":8},{"t":1.6,"z":992,"e":2.22,"f":986,"s":8},{"t":2.2,"z":992,"e":2.74,"f":992,"s":7},{"t":2.7,"z":992,"e":3.24,"f":989,"s":7},{"t":3.15,"z":992,"e":3.69,"f":992,"s":7},{"t":3.65,"z":992,"e":4.19,"f":989,"s":7},{"t":4.4,"z":992,"e":4.86,"f":989,"s":6},{"t":5.3,"z":992,"e":5.6,"f":987,"s":4},{"t":6.5,"z":992,"e":7.04,"f":989,"s":7},{"t":7.2,"z":992,"e":7.66,"f":992,"s":6},{"t":8.6,"z":992,"e":8.98,"f":986,"s":5},{"t":11.1,"z":992,"e":11.52,"f":974,"s":6},{"t":12.1,"z":992,"e":12.5,"f":971,"s":6},{"t":15.6,"z":992,"e":15.98,"f":995,"s":5},{"t":16.7,"z":992,"e":17.15,"f":981,"s":6},{"t":17.1,"z":992,"e":17.48,"f":986,"s":5},{"t":17.6,"z":992,"e":17.98,"f":992,"s":5},{"t":18.2,"z":992,"e":18.5,"f":999,"s":4},{"t":18.6,"z":992,"e":18.89,"f":1002,"s":4},{"t":19.15,"z":992,"e":19.4,"f":1008,"s":4},{"t":19.6,"z":992,"e":19.89,"f":1014,"s":5},{"t":20.2,"z":992,"e":20.5,"f":1024,"s":6},{"t":20.7,"z":992,"e":20.9,"f":1013,"s":4},{"t":21.2,"z":992,"e":21.4,"f":1013,"s":4},{"t":21.7,"z":992,"e":21.95,"f":1019,"s":5},{"t":22.2,"z":992,"e":22.5,"f":1024,"s":6},{"t":22.9,"z":992,"e":23.2,"f":1024,"s":6},{"t":23.4,"z":992,"e":23.85,"f":1003,"s":6},
{"t":0.25,"z":1045,"e":0.95,"f":1075,"s":10},{"t":1.1,"z":1045,"e":1.7,"f":1055,"s":8},{"t":1.6,"z":1045,"e":2.14,"f":1048,"s":7},{"t":2.15,"z":1045,"e":2.69,"f":1042,"s":7},{"t":2.7,"z":1045,"e":3.1,"f":1042,"s":7},{"t":3.1,"z":1045,"e":3.72,"f":1040,"s":8},{"t":3.7,"z":1045,"e":4.22,"f":1032,"s":7},{"t":12.1,"z":1045,"e":12.5,"f":1024,"s":6},{"t":15.6,"z":1045,"e":15.98,"f":1045,"s":5},{"t":16.7,"z":1045,"e":17,"f":1045,"s":4},{"t":17.1,"z":1045,"e":17.41,"f":1045,"s":4},{"t":17.6,"z":1045,"e":17.98,"f":1051,"s":5},{"t":18.15,"z":1045,"e":18.44,"f":1055,"s":4},{"t":18.65,"z":1045,"e":18.92,"f":1059,"s":4},{"t":19.15,"z":1045,"e":19.4,"f":1061,"s":4},{"t":19.6,"z":1045,"e":19.89,"f":1067,"s":5},{"t":20.2,"z":1045,"e":20.45,"f":1072,"s":5},{"t":20.7,"z":1045,"e":20.85,"f":1069,"s":4},{"t":21.2,"z":1045,"e":21.4,"f":1066,"s":4},{"t":21.7,"z":1045,"e":21.93,"f":1074,"s":5},{"t":22.2,"z":1045,"e":22.5,"f":1077,"s":6},{"t":22.85,"z":1045,"e":23.15,"f":1077,"s":6},{"t":23.4,"z":1045,"e":23.85,"f":1056,"s":6},
{"t":0.3,"z":1101,"e":0.98,"f":1112,"s":9},{"t":2.1,"z":1101,"e":2.64,"f":1098,"s":7},{"t":2.65,"z":1101,"e":3.19,"f":1098,"s":7},{"t":3.1,"z":1101,"e":3.63,"f":1092,"s":7},{"t":11.1,"z":1101,"e":11.46,"f":1073,"s":7},{"t":16.7,"z":1101,"e":17,"f":1101,"s":4},{"t":17.1,"z":1101,"e":17.48,"f":1101,"s":5},{"t":17.6,"z":1101,"e":17.98,"f":1104,"s":5},{"t":18.2,"z":1101,"e":18.53,"f":1118,"s":5},{"t":18.7,"z":1101,"e":18.99,"f":1111,"s":4},{"t":19.2,"z":1101,"e":19.49,"f":1111,"s":4},{"t":19.6,"z":1101,"e":19.87,"f":1126,"s":5},{"t":20.2,"z":1101,"e":20.4,"f":1122,"s":4},{"t":20.7,"z":1101,"e":20.85,"f":1125,"s":4},{"t":21.2,"z":1101,"e":21.4,"f":1122,"s":4},{"t":21.7,"z":1101,"e":21.95,"f":1128,"s":5},{"t":22.2,"z":1101,"e":22.43,"f":1137,"s":6},{"t":22.8,"z":1101,"e":23.13,"f":1131,"s":6},{"t":23.4,"z":1101,"e":23.85,"f":1112,"s":6},
{"t":0.25,"z":1161,"e":0.79,"f":1164,"s":7},{"t":3,"z":1161,"e":3.53,"f":1152,"s":7},{"t":3.5,"z":1161,"e":3.8,"f":1155,"s":4},{"t":11.6,"z":1205,"e":11.85,"f":1142,"s":11},{"t":12.6,"z":1205,"e":12.55,"f":1165,"s":7},{"t":13,"z":1205,"e":13.4,"f":1185,"s":6},{"t":12.5,"z":1161,"e":13,"f":1138,"s":7},{"t":13.5,"z":1161,"e":13.8,"f":1151,"s":4},{"t":16.7,"z":1161,"e":16.93,"f":1164,"s":3},{"t":17.1,"z":1161,"e":17.41,"f":1161,"s":4},{"t":17.6,"z":1161,"e":17.98,"f":1164,"s":5},{"t":18.1,"z":1161,"e":18.43,"f":1178,"s":5},{"t":18.7,"z":1161,"e":19,"f":1164,"s":4},{"t":19.2,"z":1161,"e":19.49,"f":1171,"s":4},{"t":19.6,"z":1161,"e":19.87,"f":1186,"s":5},{"t":20.2,"z":1161,"e":20.4,"f":1182,"s":4},{"t":20.7,"z":1161,"e":20.85,"f":1185,"s":4},{"t":21.2,"z":1161,"e":21.47,"f":1175,"s":4},{"t":21.7,"z":1161,"e":21.9,"f":1182,"s":4},{"t":22.2,"z":1161,"e":22.47,"f":1186,"s":5},{"t":22.8,"z":1161,"e":23.18,"f":1185,"s":6},{"t":23.4,"z":1161,"e":23.93,"f":1170,"s":7},
{"t":2.6,"z":1213,"e":2.9,"f":1196,"s":5},{"t":4,"z":1213,"e":4.3,"f":1206,"s":4},{"t":11.1,"z":1213,"e":11.55,"f":1195,"s":7},{"t":17.1,"z":1213,"e":17.41,"f":1213,"s":4},{"t":17.6,"z":1213,"e":17.98,"f":1213,"s":5},{"t":18.1,"z":1213,"e":18.41,"f":1218,"s":4},{"t":18.7,"z":1213,"e":19,"f":1213,"s":4},{"t":19.2,"z":1213,"e":19.51,"f":1218,"s":4},{"t":19.6,"z":1213,"e":19.87,"f":1238,"s":5},{"t":20.2,"z":1213,"e":20.45,"f":1240,"s":5},{"t":20.7,"z":1213,"e":20.85,"f":1237,"s":4},{"t":21.2,"z":1213,"e":21.35,"f":1237,"s":4},{"t":21.7,"z":1213,"e":21.9,"f":1234,"s":4},{"t":22.2,"z":1213,"e":22.45,"f":1240,"s":5},{"t":22.8,"z":1213,"e":23.2,"f":1234,"s":6},{"t":23.4,"z":1213,"e":23.93,"f":1222,"s":7},
{"t":11.2,"z":1273,"e":11.74,"f":1255,"s":7},{"t":12.1,"z":1273,"e":12.55,"f":1260,"s":6},{"t":16.7,"z":1273,"e":17.01,"f":1273,"s":4},{"t":17.1,"z":1273,"e":17.41,"f":1273,"s":4},{"t":17.6,"z":1273,"e":18.06,"f":1277,"s":6},{"t":18.1,"z":1273,"e":18.48,"f":1279,"s":5},{"t":18.7,"z":1273,"e":19.01,"f":1273,"s":4},{"t":19.2,"z":1273,"e":19.5,"f":1280,"s":4},{"t":19.6,"z":1273,"e":19.87,"f":1287,"s":4},{"t":20.2,"z":1273,"e":20.4,"f":1294,"s":4},{"t":20.7,"z":1273,"e":20.85,"f":1297,"s":4},{"t":21.7,"z":1273,"e":21.9,"f":1294,"s":4},{"t":22.2,"z":1273,"e":22.45,"f":1300,"s":5},{"t":22.8,"z":1273,"e":23.2,"f":1294,"s":6},{"t":23.4,"z":1273,"e":23.93,"f":1282,"s":7},
{"t":1.58,"z":1326,"e":1.8,"f":1306,"s":4},{"t":3.1,"z":1326,"e":3.37,"f":1312,"s":4},{"t":5.6,"z":1326,"e":5.91,"f":1326,"s":4},{"t":10.1,"z":1326,"e":10.52,"f":1308,"s":6},{"t":10.67,"z":1326,"e":11.09,"f":1308,"s":6},{"t":11.2,"z":1326,"e":11.47,"f":1312,"s":4},{"t":13.5,"z":1345,"e":13.75,"f":1280,"s":10},{"t":17.1,"z":1326,"e":17.35,"f":1338,"s":3},{"t":17.6,"z":1326,"e":18.05,"f":1337,"s":6},{"t":18.1,"z":1326,"e":18.47,"f":1335,"s":5},{"t":18.7,"z":1326,"e":19.01,"f":1326,"s":4},{"t":19.2,"z":1326,"e":19.5,"f":1331,"s":4},{"t":19.6,"z":1326,"e":19.87,"f":1340,"s":4},{"t":20.2,"z":1326,"e":20.42,"f":1346,"s":4},{"t":20.7,"z":1326,"e":20.8,"f":1344,"s":3},{"t":21.2,"z":1326,"e":21.32,"f":1366,"s":6},{"t":21.7,"z":1326,"e":21.92,"f":1346,"s":4},{"t":22.2,"z":1326,"e":22.45,"f":1353,"s":5},{"t":22.8,"z":1326,"e":23.23,"f":1340,"s":6},{"t":23.4,"z":1326,"e":23.78,"f":1332,"s":5},
{"t":3,"z":1386,"e":3.15,"f":1362,"s":4},{"t":5.9,"z":1386,"e":6.2,"f":1391,"s":4},{"t":17.1,"z":1386,"e":17.39,"f":1396,"s":4},{"t":17.6,"z":1386,"e":17.87,"f":1400,"s":4},{"t":18.1,"z":1386,"e":18.41,"f":1386,"s":4},{"t":18.7,"z":1386,"e":19,"f":1391,"s":4},{"t":19.2,"z":1386,"e":19.5,"f":1391,"s":4},{"t":19.6,"z":1386,"e":19.87,"f":1400,"s":4},{"t":20.2,"z":1386,"e":20.42,"f":1406,"s":4},{"t":20.7,"z":1386,"e":20.78,"f":1398,"s":2},{"t":21.2,"z":1386,"e":21.42,"f":1406,"s":4},{"t":21.7,"z":1386,"e":21.92,"f":1406,"s":4},{"t":22.2,"z":1386,"e":22.42,"f":1406,"s":4},{"t":22.8,"z":1386,"e":23.1,"f":1393,"s":4},{"t":23.4,"z":1386,"e":23.7,"f":1391,"s":4}
],
"heat":[
{"t":8,"a":0.11,"v":15},{"t":23,"a":0.11,"v":15},{"t":38,"a":0.11,"v":14.5},{"t":53,"a":0.11,"v":14.5},{"t":68,"a":0.11,"v":12.5},{"t":83,"a":0.11,"v":12},{"t":98,"a":0.11,"v":13},{"t":113,"a":0.11,"v":13.5},{"t":128,"a":0.11,"v":13.5},{"t":143,"a":0.11,"v":13},{"t":158,"a":0.11,"v":12},{"t":173,"a":0.11,"v":12},{"t":188,"a":0.11,"v":13.5},{"t":203,"a":0.11,"v":13.5},{"t":218,"a":0.11,"v":13},{"t":233,"a":0.11,"v":12.8},{"t":248,"a":0.11,"v":13.5},{"t":263,"a":0.11,"v":14},{"t":278,"a":0.11,"v":13.5},{"t":293,"a":0.11,"v":12.5},{"t":308,"a":0.11,"v":13},{"t":323,"a":0.11,"v":13.5},{"t":338,"a":0.11,"v":13.5},{"t":353,"a":0.11,"v":13.5},{"t":368,"a":0.11,"v":14},{"t":383,"a":0.11,"v":14},{"t":398,"a":0.11,"v":14},{"t":413,"a":0.11,"v":14.5},{"t":428,"a":0.11,"v":14.5},{"t":443,"a":0.11,"v":8},
{"t":8,"a":0.23,"v":13},{"t":23,"a":0.23,"v":13},{"t":38,"a":0.23,"v":13},{"t":53,"a":0.23,"v":12.5},{"t":68,"a":0.23,"v":11},{"t":83,"a":0.23,"v":11},{"t":98,"a":0.23,"v":11},{"t":113,"a":0.23,"v":11},{"t":128,"a":0.23,"v":11.5},{"t":143,"a":0.23,"v":11.5},{"t":158,"a":0.23,"v":11.5},{"t":173,"a":0.23,"v":12},{"t":188,"a":0.23,"v":12},{"t":203,"a":0.23,"v":12},{"t":218,"a":0.23,"v":11.5},{"t":233,"a":0.23,"v":11.5},{"t":248,"a":0.23,"v":11.5},{"t":263,"a":0.23,"v":11.5},{"t":278,"a":0.23,"v":12},{"t":293,"a":0.23,"v":12},{"t":308,"a":0.23,"v":12},{"t":323,"a":0.23,"v":12.5},{"t":338,"a":0.23,"v":13},{"t":353,"a":0.23,"v":13},{"t":368,"a":0.23,"v":13},{"t":383,"a":0.23,"v":13},{"t":398,"a":0.23,"v":13},{"t":413,"a":0.23,"v":13.5},{"t":428,"a":0.23,"v":14},{"t":443,"a":0.23,"v":12},
{"t":8,"a":0.35,"v":13},{"t":23,"a":0.35,"v":12.8},{"t":38,"a":0.35,"v":12},{"t":53,"a":0.35,"v":12.5},{"t":68,"a":0.35,"v":11},{"t":83,"a":0.35,"v":11},{"t":98,"a":0.35,"v":10.8},{"t":113,"a":0.35,"v":10.8},{"t":128,"a":0.35,"v":10.8},{"t":143,"a":0.35,"v":11},{"t":158,"a":0.35,"v":11},{"t":173,"a":0.35,"v":11.5},{"t":188,"a":0.35,"v":12},{"t":203,"a":0.35,"v":12},{"t":218,"a":0.35,"v":12},{"t":233,"a":0.35,"v":11.5},{"t":248,"a":0.35,"v":11.5},{"t":263,"a":0.35,"v":11.5},{"t":278,"a":0.35,"v":11.5},{"t":293,"a":0.35,"v":11.5},{"t":308,"a":0.35,"v":12},{"t":323,"a":0.35,"v":12.5},{"t":338,"a":0.35,"v":12.5},{"t":353,"a":0.35,"v":13},{"t":368,"a":0.35,"v":13},{"t":383,"a":0.35,"v":13},{"t":398,"a":0.35,"v":13.5},{"t":413,"a":0.35,"v":13.5},{"t":428,"a":0.35,"v":14},{"t":443,"a":0.35,"v":13},
{"t":8,"a":0.47,"v":13.5},{"t":23,"a":0.47,"v":13},{"t":38,"a":0.47,"v":12.5},{"t":53,"a":0.47,"v":12},{"t":68,"a":0.47,"v":11.5},{"t":83,"a":0.47,"v":11.2},{"t":98,"a":0.47,"v":11},{"t":113,"a":0.47,"v":11},{"t":128,"a":0.47,"v":11},{"t":143,"a":0.47,"v":11},{"t":158,"a":0.47,"v":11.5},{"t":173,"a":0.47,"v":12},{"t":188,"a":0.47,"v":12},{"t":203,"a":0.47,"v":11},{"t":218,"a":0.47,"v":11},{"t":233,"a":0.47,"v":11},{"t":248,"a":0.47,"v":11},{"t":263,"a":0.47,"v":11},{"t":278,"a":0.47,"v":11},{"t":293,"a":0.47,"v":10.5},{"t":308,"a":0.47,"v":10},{"t":323,"a":0.47,"v":10.5},{"t":338,"a":0.47,"v":11.5},{"t":353,"a":0.47,"v":12.5},{"t":368,"a":0.47,"v":13},{"t":383,"a":0.47,"v":14},{"t":398,"a":0.47,"v":14.5},{"t":413,"a":0.47,"v":14},{"t":428,"a":0.47,"v":14.5},{"t":443,"a":0.47,"v":14},
{"t":8,"a":0.59,"v":14},{"t":23,"a":0.59,"v":14},{"t":38,"a":0.59,"v":13},{"t":53,"a":0.59,"v":13},{"t":68,"a":0.59,"v":12.5},{"t":83,"a":0.59,"v":12.5},{"t":98,"a":0.59,"v":12.5},{"t":113,"a":0.59,"v":13},{"t":128,"a":0.59,"v":12.5},{"t":143,"a":0.59,"v":12.5},{"t":158,"a":0.59,"v":13},{"t":173,"a":0.59,"v":12.5},{"t":188,"a":0.59,"v":11},{"t":203,"a":0.59,"v":10},{"t":218,"a":0.59,"v":9.8},{"t":233,"a":0.59,"v":10},{"t":248,"a":0.59,"v":10},{"t":263,"a":0.59,"v":10},{"t":278,"a":0.59,"v":10},{"t":293,"a":0.59,"v":8},{"t":308,"a":0.59,"v":7},{"t":323,"a":0.59,"v":7.5},{"t":338,"a":0.59,"v":7.5},{"t":353,"a":0.59,"v":10},{"t":368,"a":0.59,"v":11.5},{"t":383,"a":0.59,"v":12},{"t":398,"a":0.59,"v":12},{"t":413,"a":0.59,"v":12.5},{"t":428,"a":0.59,"v":13},{"t":443,"a":0.59,"v":14},
{"t":8,"a":0.71,"v":15},{"t":23,"a":0.71,"v":15},{"t":38,"a":0.71,"v":14},{"t":53,"a":0.71,"v":14},{"t":68,"a":0.71,"v":13.5},{"t":83,"a":0.71,"v":13.5},{"t":98,"a":0.71,"v":14},{"t":113,"a":0.71,"v":14},{"t":128,"a":0.71,"v":14.5},{"t":143,"a":0.71,"v":14},{"t":158,"a":0.71,"v":14},{"t":173,"a":0.71,"v":13},{"t":188,"a":0.71,"v":12.5},{"t":203,"a":0.71,"v":11},{"t":218,"a":0.71,"v":11},{"t":233,"a":0.71,"v":11},{"t":248,"a":0.71,"v":11.5},{"t":263,"a":0.71,"v":11.5},{"t":278,"a":0.71,"v":11},{"t":293,"a":0.71,"v":10},{"t":308,"a":0.71,"v":9.5},{"t":323,"a":0.71,"v":9.5},{"t":338,"a":0.71,"v":9.5},{"t":353,"a":0.71,"v":9.5},{"t":368,"a":0.71,"v":9},{"t":383,"a":0.71,"v":9.2},{"t":398,"a":0.71,"v":9.8},{"t":413,"a":0.71,"v":10},{"t":428,"a":0.71,"v":10.5},{"t":443,"a":0.71,"v":13},
{"t":8,"a":0.83,"v":15.5},{"t":23,"a":0.83,"v":15.5},{"t":38,"a":0.83,"v":14.5},{"t":53,"a":0.83,"v":14.5},{"t":68,"a":0.83,"v":14},{"t":83,"a":0.83,"v":14.5},{"t":98,"a":0.83,"v":14.5},{"t":113,"a":0.83,"v":14.5},{"t":128,"a":0.83,"v":14.5},{"t":143,"a":0.83,"v":14.8},{"t":158,"a":0.83,"v":14.5},{"t":173,"a":0.83,"v":14.2},{"t":188,"a":0.83,"v":13.5},{"t":203,"a":0.83,"v":13},{"t":218,"a":0.83,"v":13},{"t":233,"a":0.83,"v":13},{"t":248,"a":0.83,"v":13},{"t":263,"a":0.83,"v":12.8},{"t":278,"a":0.83,"v":12.5},{"t":293,"a":0.83,"v":11.5},{"t":308,"a":0.83,"v":10.5},{"t":323,"a":0.83,"v":9.5},{"t":338,"a":0.83,"v":8.5},{"t":353,"a":0.83,"v":8.5},{"t":368,"a":0.83,"v":8.5},{"t":383,"a":0.83,"v":9},{"t":398,"a":0.83,"v":9},{"t":413,"a":0.83,"v":9},{"t":428,"a":0.83,"v":9},{"t":443,"a":0.83,"v":7},
{"t":8,"a":0.95,"v":17},{"t":23,"a":0.95,"v":15},{"t":38,"a":0.95,"v":13},{"t":53,"a":0.95,"v":14},{"t":68,"a":0.95,"v":14.5},{"t":83,"a":0.95,"v":14.5},{"t":98,"a":0.95,"v":14},{"t":113,"a":0.95,"v":14},{"t":128,"a":0.95,"v":14},{"t":143,"a":0.95,"v":14},{"t":158,"a":0.95,"v":14},{"t":173,"a":0.95,"v":14},{"t":188,"a":0.95,"v":13.5},{"t":203,"a":0.95,"v":13.5},{"t":218,"a":0.95,"v":13.5},{"t":233,"a":0.95,"v":13},{"t":248,"a":0.95,"v":13},{"t":263,"a":0.95,"v":13},{"t":278,"a":0.95,"v":13},{"t":293,"a":0.95,"v":12.5},{"t":308,"a":0.95,"v":12.5},{"t":323,"a":0.95,"v":12},{"t":338,"a":0.95,"v":11.5},{"t":353,"a":0.95,"v":11},{"t":368,"a":0.95,"v":11},{"t":383,"a":0.95,"v":11},{"t":398,"a":0.95,"v":11},{"t":413,"a":0.95,"v":11},{"t":428,"a":0.95,"v":11},{"t":443,"a":0.95,"v":13},
{"t":8,"a":1.07,"v":17},{"t":23,"a":1.07,"v":17},{"t":38,"a":1.07,"v":17},{"t":53,"a":1.07,"v":14},{"t":68,"a":1.07,"v":14},{"t":83,"a":1.07,"v":14.5},{"t":98,"a":1.07,"v":14.5},{"t":113,"a":1.07,"v":15},{"t":128,"a":1.07,"v":14.5},{"t":143,"a":1.07,"v":14.5},{"t":158,"a":1.07,"v":15},{"t":173,"a":1.07,"v":14.5},{"t":188,"a":1.07,"v":14},{"t":203,"a":1.07,"v":14},{"t":218,"a":1.07,"v":13.5},{"t":233,"a":1.07,"v":14},{"t":248,"a":1.07,"v":14},{"t":263,"a":1.07,"v":14.5},{"t":278,"a":1.07,"v":14},{"t":293,"a":1.07,"v":14},{"t":308,"a":1.07,"v":14.5},{"t":323,"a":1.07,"v":14},{"t":338,"a":1.07,"v":13.5},{"t":353,"a":1.07,"v":14},{"t":368,"a":1.07,"v":13.5},{"t":383,"a":1.07,"v":13.5},{"t":398,"a":1.07,"v":14},{"t":413,"a":1.07,"v":14},{"t":428,"a":1.07,"v":15},{"t":443,"a":1.07,"v":16},
{"t":8,"a":1.19,"v":16.5},{"t":23,"a":1.19,"v":16},{"t":38,"a":1.19,"v":17},{"t":53,"a":1.19,"v":17},{"t":68,"a":1.19,"v":14.5},{"t":83,"a":1.19,"v":15},{"t":98,"a":1.19,"v":15},{"t":113,"a":1.19,"v":14.5},{"t":128,"a":1.19,"v":14.8},{"t":143,"a":1.19,"v":15},{"t":158,"a":1.19,"v":14.5},{"t":173,"a":1.19,"v":14},{"t":188,"a":1.19,"v":14.5},{"t":203,"a":1.19,"v":14},{"t":218,"a":1.19,"v":14.5},{"t":233,"a":1.19,"v":14},{"t":248,"a":1.19,"v":14.8},{"t":263,"a":1.19,"v":14},{"t":278,"a":1.19,"v":14.5},{"t":293,"a":1.19,"v":14.8},{"t":308,"a":1.19,"v":14},{"t":323,"a":1.19,"v":14.5},{"t":338,"a":1.19,"v":14.8},{"t":353,"a":1.19,"v":14},{"t":368,"a":1.19,"v":14.5},{"t":383,"a":1.19,"v":14},{"t":398,"a":1.19,"v":14.5},{"t":413,"a":1.19,"v":14.5},{"t":428,"a":1.19,"v":16},{"t":443,"a":1.19,"v":16},
{"t":8,"a":1.31,"v":17},{"t":23,"a":1.31,"v":16},{"t":38,"a":1.31,"v":16.5},{"t":53,"a":1.31,"v":17.5},{"t":68,"a":1.31,"v":15},{"t":83,"a":1.31,"v":14.5},{"t":98,"a":1.31,"v":14},{"t":113,"a":1.31,"v":14.5},{"t":128,"a":1.31,"v":14},{"t":143,"a":1.31,"v":14},{"t":158,"a":1.31,"v":13.5},{"t":173,"a":1.31,"v":14},{"t":188,"a":1.31,"v":14.5},{"t":203,"a":1.31,"v":13.5},{"t":218,"a":1.31,"v":14},{"t":233,"a":1.31,"v":14.5},{"t":248,"a":1.31,"v":14},{"t":263,"a":1.31,"v":14.5},{"t":278,"a":1.31,"v":14},{"t":293,"a":1.31,"v":13.5},{"t":308,"a":1.31,"v":14},{"t":323,"a":1.31,"v":14.5},{"t":338,"a":1.31,"v":14},{"t":353,"a":1.31,"v":14.5},{"t":368,"a":1.31,"v":14},{"t":383,"a":1.31,"v":14},{"t":398,"a":1.31,"v":13.5},{"t":413,"a":1.31,"v":14},{"t":428,"a":1.31,"v":15.5},{"t":443,"a":1.31,"v":16},
{"t":8,"a":1.43,"v":15.5},{"t":23,"a":1.43,"v":16},{"t":68,"a":1.43,"v":14},{"t":83,"a":1.43,"v":14},{"t":98,"a":1.43,"v":13.5},{"t":113,"a":1.43,"v":13},{"t":128,"a":1.43,"v":13.5},{"t":143,"a":1.43,"v":14},{"t":158,"a":1.43,"v":13},{"t":173,"a":1.43,"v":13.5},{"t":188,"a":1.43,"v":13},{"t":203,"a":1.43,"v":13},{"t":218,"a":1.43,"v":14},{"t":233,"a":1.43,"v":13},{"t":248,"a":1.43,"v":13},{"t":263,"a":1.43,"v":13.5},{"t":278,"a":1.43,"v":14},{"t":293,"a":1.43,"v":13},{"t":308,"a":1.43,"v":13},{"t":323,"a":1.43,"v":14},{"t":338,"a":1.43,"v":13.5},{"t":353,"a":1.43,"v":13},{"t":368,"a":1.43,"v":13.5},{"t":383,"a":1.43,"v":13},{"t":398,"a":1.43,"v":14},{"t":413,"a":1.43,"v":15},{"t":428,"a":1.43,"v":15.5},{"t":443,"a":1.43,"v":15},
{"t":68,"a":1.55,"v":13},{"t":83,"a":1.55,"v":13},{"t":98,"a":1.55,"v":13},{"t":113,"a":1.55,"v":12.5},{"t":128,"a":1.55,"v":12.5},{"t":143,"a":1.55,"v":13},{"t":158,"a":1.55,"v":13},{"t":173,"a":1.55,"v":13},{"t":188,"a":1.55,"v":12.5},{"t":203,"a":1.55,"v":12},{"t":218,"a":1.55,"v":12.5},{"t":233,"a":1.55,"v":13},{"t":248,"a":1.55,"v":12.5},{"t":263,"a":1.55,"v":12.5},{"t":278,"a":1.55,"v":12.5},{"t":293,"a":1.55,"v":13},{"t":308,"a":1.55,"v":12.5},{"t":323,"a":1.55,"v":13},{"t":338,"a":1.55,"v":12.5},{"t":353,"a":1.55,"v":13},{"t":368,"a":1.55,"v":13},{"t":383,"a":1.55,"v":12.5},{"t":398,"a":1.55,"v":13},{"t":413,"a":1.55,"v":14},{"t":428,"a":1.55,"v":14.5},
{"t":68,"a":1.67,"v":13},{"t":83,"a":1.67,"v":13.5},{"t":98,"a":1.67,"v":12.5},{"t":113,"a":1.67,"v":12},{"t":128,"a":1.67,"v":12.5},{"t":143,"a":1.67,"v":12},{"t":158,"a":1.67,"v":12},{"t":173,"a":1.67,"v":12.5},{"t":188,"a":1.67,"v":11.5},{"t":203,"a":1.67,"v":12},{"t":218,"a":1.67,"v":12},{"t":233,"a":1.67,"v":12},{"t":248,"a":1.67,"v":11.5},{"t":263,"a":1.67,"v":12},{"t":278,"a":1.67,"v":12.5},{"t":293,"a":1.67,"v":11.5},{"t":308,"a":1.67,"v":12},{"t":323,"a":1.67,"v":12},{"t":338,"a":1.67,"v":13},{"t":353,"a":1.67,"v":12},{"t":368,"a":1.67,"v":11.5},{"t":383,"a":1.67,"v":12},{"t":398,"a":1.67,"v":12},{"t":413,"a":1.67,"v":13},{"t":428,"a":1.67,"v":12.5},
{"t":68,"a":1.79,"v":13},{"t":83,"a":1.79,"v":13},{"t":98,"a":1.79,"v":13},{"t":113,"a":1.79,"v":12.5},{"t":128,"a":1.79,"v":13.5},{"t":143,"a":1.79,"v":12},{"t":158,"a":1.79,"v":12.5},{"t":173,"a":1.79,"v":11.5},{"t":188,"a":1.79,"v":12},{"t":203,"a":1.79,"v":11.5},{"t":218,"a":1.79,"v":12},{"t":233,"a":1.79,"v":11.5},{"t":248,"a":1.79,"v":12.5},{"t":263,"a":1.79,"v":11.5},{"t":278,"a":1.79,"v":12},{"t":293,"a":1.79,"v":12.5},{"t":308,"a":1.79,"v":12},{"t":323,"a":1.79,"v":11.5},{"t":338,"a":1.79,"v":12},{"t":353,"a":1.79,"v":13},{"t":368,"a":1.79,"v":12},{"t":383,"a":1.79,"v":11.5},{"t":398,"a":1.79,"v":12.5},{"t":413,"a":1.79,"v":12},{"t":428,"a":1.79,"v":11},
{"t":68,"a":1.91,"v":12},{"t":83,"a":1.91,"v":13.5},{"t":98,"a":1.91,"v":12.5},{"t":113,"a":1.91,"v":13},{"t":128,"a":1.91,"v":12},{"t":143,"a":1.91,"v":13},{"t":158,"a":1.91,"v":11.5},{"t":173,"a":1.91,"v":12},{"t":188,"a":1.91,"v":12},{"t":203,"a":1.91,"v":11.5},{"t":218,"a":1.91,"v":11},{"t":233,"a":1.91,"v":12},{"t":248,"a":1.91,"v":11.5},{"t":263,"a":1.91,"v":12},{"t":278,"a":1.91,"v":11.5},{"t":293,"a":1.91,"v":11},{"t":308,"a":1.91,"v":12.5},{"t":323,"a":1.91,"v":12},{"t":338,"a":1.91,"v":11},{"t":353,"a":1.91,"v":12},{"t":368,"a":1.91,"v":11.5},{"t":383,"a":1.91,"v":12.5},{"t":398,"a":1.91,"v":12},{"t":413,"a":1.91,"v":12.5},{"t":428,"a":1.91,"v":10.5},
{"t":68,"a":2.03,"v":12.5},{"t":83,"a":2.03,"v":12},{"t":98,"a":2.03,"v":13.5},{"t":113,"a":2.03,"v":12.5},{"t":128,"a":2.03,"v":12},{"t":143,"a":2.03,"v":12.5},{"t":158,"a":2.03,"v":12},{"t":173,"a":2.03,"v":11.5},{"t":188,"a":2.03,"v":11},{"t":203,"a":2.03,"v":12},{"t":218,"a":2.03,"v":11.5},{"t":233,"a":2.03,"v":11},{"t":248,"a":2.03,"v":12},{"t":263,"a":2.03,"v":12.5},{"t":278,"a":2.03,"v":11.5},{"t":293,"a":2.03,"v":12},{"t":308,"a":2.03,"v":11},{"t":323,"a":2.03,"v":11.5},{"t":338,"a":2.03,"v":12},{"t":353,"a":2.03,"v":11},{"t":368,"a":2.03,"v":12},{"t":383,"a":2.03,"v":11},{"t":398,"a":2.03,"v":12.5},{"t":413,"a":2.03,"v":12},{"t":428,"a":2.03,"v":10.5},
{"t":68,"a":2.15,"v":12},{"t":83,"a":2.15,"v":12.5},{"t":98,"a":2.15,"v":12},{"t":113,"a":2.15,"v":13},{"t":128,"a":2.15,"v":12.5},{"t":143,"a":2.15,"v":13},{"t":158,"a":2.15,"v":12},{"t":173,"a":2.15,"v":12.5},{"t":188,"a":2.15,"v":11},{"t":203,"a":2.15,"v":11.5},{"t":218,"a":2.15,"v":12},{"t":233,"a":2.15,"v":11},{"t":248,"a":2.15,"v":11.5},{"t":263,"a":2.15,"v":11.5},{"t":278,"a":2.15,"v":12},{"t":293,"a":2.15,"v":11},{"t":308,"a":2.15,"v":11.5},{"t":323,"a":2.15,"v":10.5},{"t":338,"a":2.15,"v":12},{"t":353,"a":2.15,"v":11.5},{"t":368,"a":2.15,"v":11},{"t":383,"a":2.15,"v":10.5},{"t":398,"a":2.15,"v":12},{"t":413,"a":2.15,"v":11.5},{"t":428,"a":2.15,"v":10},
{"t":68,"a":2.27,"v":11},{"t":83,"a":2.27,"v":11.5},{"t":98,"a":2.27,"v":12},{"t":113,"a":2.27,"v":12.5},{"t":128,"a":2.27,"v":11.5},{"t":143,"a":2.27,"v":11},{"t":158,"a":2.27,"v":12},{"t":173,"a":2.27,"v":11.5},{"t":188,"a":2.27,"v":11},{"t":203,"a":2.27,"v":10.5},{"t":218,"a":2.27,"v":11},{"t":233,"a":2.27,"v":11.5},{"t":248,"a":2.27,"v":10.5},{"t":263,"a":2.27,"v":12},{"t":278,"a":2.27,"v":11},{"t":293,"a":2.27,"v":10.5},{"t":308,"a":2.27,"v":11.5},{"t":323,"a":2.27,"v":10.5},{"t":338,"a":2.27,"v":10},{"t":353,"a":2.27,"v":11},{"t":368,"a":2.27,"v":11.5},{"t":383,"a":2.27,"v":10.5},{"t":398,"a":2.27,"v":11.5},{"t":413,"a":2.27,"v":11},{"t":428,"a":2.27,"v":9.5},
{"t":68,"a":2.39,"v":9.5},{"t":83,"a":2.39,"v":10},{"t":98,"a":2.39,"v":10.5},{"t":113,"a":2.39,"v":10.5},{"t":128,"a":2.39,"v":10.5},{"t":143,"a":2.39,"v":10},{"t":158,"a":2.39,"v":10},{"t":173,"a":2.39,"v":10.5},{"t":188,"a":2.39,"v":10},{"t":203,"a":2.39,"v":9.5},{"t":218,"a":2.39,"v":10},{"t":233,"a":2.39,"v":9.5},{"t":248,"a":2.39,"v":10.5},{"t":263,"a":2.39,"v":9.5},{"t":278,"a":2.39,"v":10},{"t":293,"a":2.39,"v":9.5},{"t":308,"a":2.39,"v":10},{"t":323,"a":2.39,"v":10},{"t":338,"a":2.39,"v":10.5},{"t":353,"a":2.39,"v":9.5},{"t":368,"a":2.39,"v":10},{"t":383,"a":2.39,"v":9},{"t":398,"a":2.39,"v":10},{"t":413,"a":2.39,"v":10.5},{"t":428,"a":2.39,"v":9},
{"t":68,"a":2.51,"v":8},{"t":83,"a":2.51,"v":8},{"t":98,"a":2.51,"v":8.5},{"t":113,"a":2.51,"v":9},{"t":128,"a":2.51,"v":9},{"t":143,"a":2.51,"v":8.5},{"t":158,"a":2.51,"v":8.5},{"t":173,"a":2.51,"v":9},{"t":188,"a":2.51,"v":8.5},{"t":203,"a":2.51,"v":8.5},{"t":218,"a":2.51,"v":8},{"t":233,"a":2.51,"v":8.5},{"t":248,"a":2.51,"v":8.5},{"t":263,"a":2.51,"v":9},{"t":278,"a":2.51,"v":8},{"t":293,"a":2.51,"v":8.5},{"t":308,"a":2.51,"v":8},{"t":323,"a":2.51,"v":8.5},{"t":338,"a":2.51,"v":9},{"t":353,"a":2.51,"v":8},{"t":368,"a":2.51,"v":8},{"t":383,"a":2.51,"v":7},{"t":398,"a":2.51,"v":8},{"t":413,"a":2.51,"v":8},{"t":428,"a":2.51,"v":7.5},
{"t":68,"a":2.63,"v":7},{"t":83,"a":2.63,"v":7.5},{"t":98,"a":2.63,"v":6.5},{"t":113,"a":2.63,"v":7},{"t":128,"a":2.63,"v":7},{"t":143,"a":2.63,"v":6.5},{"t":158,"a":2.63,"v":6.5},{"t":173,"a":2.63,"v":6},{"t":188,"a":2.63,"v":7},{"t":203,"a":2.63,"v":7},{"t":218,"a":2.63,"v":6.5},{"t":233,"a":2.63,"v":6.5},{"t":248,"a":2.63,"v":7.5},{"t":263,"a":2.63,"v":7.5},{"t":278,"a":2.63,"v":7},{"t":293,"a":2.63,"v":7.5},{"t":308,"a":2.63,"v":7},{"t":323,"a":2.63,"v":7},{"t":338,"a":2.63,"v":7.5},{"t":353,"a":2.63,"v":6.5},{"t":368,"a":2.63,"v":6},{"t":383,"a":2.63,"v":6},{"t":398,"a":2.63,"v":6},{"t":413,"a":2.63,"v":6},
{"t":68,"a":2.75,"v":6},{"t":83,"a":2.75,"v":6},{"t":98,"a":2.75,"v":6},{"t":113,"a":2.75,"v":5.5},{"t":128,"a":2.75,"v":5.5},{"t":143,"a":2.75,"v":6},{"t":158,"a":2.75,"v":5.5},{"t":173,"a":2.75,"v":6},{"t":188,"a":2.75,"v":5.5},{"t":203,"a":2.75,"v":6},{"t":218,"a":2.75,"v":7},{"t":233,"a":2.75,"v":7},{"t":248,"a":2.75,"v":6.5},{"t":263,"a":2.75,"v":8.5},{"t":278,"a":2.75,"v":7},{"t":293,"a":2.75,"v":6},{"t":308,"a":2.75,"v":6.5},{"t":323,"a":2.75,"v":7},{"t":338,"a":2.75,"v":6},{"t":353,"a":2.75,"v":7},{"t":368,"a":2.75,"v":6},{"t":383,"a":2.75,"v":5.5},{"t":398,"a":2.75,"v":5.5},{"t":413,"a":2.75,"v":6},
{"t":68,"a":2.87,"v":6},{"t":83,"a":2.87,"v":6},{"t":98,"a":2.87,"v":7},{"t":113,"a":2.87,"v":6.5},{"t":128,"a":2.87,"v":7},{"t":143,"a":2.87,"v":6.5},{"t":158,"a":2.87,"v":5.5},{"t":173,"a":2.87,"v":6.5},{"t":188,"a":2.87,"v":6},{"t":203,"a":2.87,"v":7},{"t":218,"a":2.87,"v":7},{"t":233,"a":2.87,"v":6.5},{"t":248,"a":2.87,"v":8},{"t":263,"a":2.87,"v":7.5},{"t":278,"a":2.87,"v":6.5},{"t":293,"a":2.87,"v":6},{"t":308,"a":2.87,"v":5.5},{"t":323,"a":2.87,"v":6},{"t":338,"a":2.87,"v":7},{"t":353,"a":2.87,"v":6},{"t":368,"a":2.87,"v":5.5},{"t":383,"a":2.87,"v":5.5},{"t":398,"a":2.87,"v":6},{"t":413,"a":2.87,"v":6},
{"t":68,"a":2.99,"v":7},{"t":83,"a":2.99,"v":6.5},{"t":98,"a":2.99,"v":7.5},{"t":113,"a":2.99,"v":7},{"t":128,"a":2.99,"v":8},{"t":143,"a":2.99,"v":8.5},{"t":158,"a":2.99,"v":7.5},{"t":173,"a":2.99,"v":7},{"t":188,"a":2.99,"v":8},{"t":203,"a":2.99,"v":6},{"t":218,"a":2.99,"v":7},{"t":233,"a":2.99,"v":7},{"t":248,"a":2.99,"v":7.5},{"t":263,"a":2.99,"v":6.5},{"t":278,"a":2.99,"v":7.5},{"t":293,"a":2.99,"v":6},{"t":308,"a":2.99,"v":6},{"t":323,"a":2.99,"v":6},{"t":338,"a":2.99,"v":6.5},{"t":353,"a":2.99,"v":6},{"t":368,"a":2.99,"v":6.5},{"t":383,"a":2.99,"v":5.5},{"t":398,"a":2.99,"v":6.5},{"t":413,"a":2.99,"v":6.5},
{"t":68,"a":3.11,"v":6.5},{"t":83,"a":3.11,"v":7.5},{"t":98,"a":3.11,"v":7.5},{"t":113,"a":3.11,"v":8},{"t":128,"a":3.11,"v":7.5},{"t":143,"a":3.11,"v":7},{"t":158,"a":3.11,"v":7.5},{"t":173,"a":3.11,"v":6.5},{"t":188,"a":3.11,"v":7},{"t":203,"a":3.11,"v":5.5},{"t":218,"a":3.11,"v":6},{"t":233,"a":3.11,"v":7},{"t":248,"a":3.11,"v":6.5},{"t":263,"a":3.11,"v":6},{"t":278,"a":3.11,"v":6},{"t":293,"a":3.11,"v":6.5},{"t":308,"a":3.11,"v":6},{"t":323,"a":3.11,"v":7.5},{"t":338,"a":3.11,"v":5.5},{"t":353,"a":3.11,"v":6.5},{"t":368,"a":3.11,"v":5.5},{"t":383,"a":3.11,"v":6},{"t":398,"a":3.11,"v":5.5},{"t":413,"a":3.11,"v":6},
{"t":68,"a":3.23,"v":6},{"t":83,"a":3.23,"v":7.5},{"t":98,"a":3.23,"v":6},{"t":113,"a":3.23,"v":7},{"t":128,"a":3.23,"v":6.5},{"t":143,"a":3.23,"v":6},{"t":158,"a":3.23,"v":6},{"t":173,"a":3.23,"v":5.5},{"t":188,"a":3.23,"v":6},{"t":203,"a":3.23,"v":6},{"t":218,"a":3.23,"v":5.5},{"t":233,"a":3.23,"v":5.5},{"t":248,"a":3.23,"v":6},{"t":263,"a":3.23,"v":6},{"t":278,"a":3.23,"v":5.5},{"t":293,"a":3.23,"v":5.5},{"t":308,"a":3.23,"v":6},{"t":323,"a":3.23,"v":5.5},{"t":338,"a":3.23,"v":6},{"t":353,"a":3.23,"v":5.5},{"t":368,"a":3.23,"v":6},{"t":383,"a":3.23,"v":5.5},{"t":398,"a":3.23,"v":5.5},{"t":413,"a":3.23,"v":5.5},
{"t":68,"a":3.35,"v":5.5},{"t":83,"a":3.35,"v":6},{"t":98,"a":3.35,"v":5},{"t":113,"a":3.35,"v":6.5},{"t":128,"a":3.35,"v":6},{"t":143,"a":3.35,"v":5},{"t":158,"a":3.35,"v":5},{"t":173,"a":3.35,"v":5.5},{"t":188,"a":3.35,"v":5},{"t":203,"a":3.35,"v":5.5},{"t":218,"a":3.35,"v":5},{"t":233,"a":3.35,"v":5},{"t":248,"a":3.35,"v":5.5},{"t":263,"a":3.35,"v":5},{"t":278,"a":3.35,"v":5.5},{"t":293,"a":3.35,"v":5},{"t":308,"a":3.35,"v":5.5},{"t":323,"a":3.35,"v":5},{"t":338,"a":3.35,"v":5},{"t":353,"a":3.35,"v":5.5},{"t":368,"a":3.35,"v":5},{"t":383,"a":3.35,"v":5},{"t":398,"a":3.35,"v":4.8},{"t":413,"a":3.35,"v":5}
],
"cbar":[{"v":4.1,"a":4,"b":4.2},{"v":4.3,"a":4.2,"b":4.4},{"v":4.5,"a":4.4,"b":4.6},{"v":4.7,"a":4.6,"b":4.8},{"v":4.9,"a":4.8,"b":5},{"v":5.1,"a":5,"b":5.2},{"v":5.3,"a":5.2,"b":5.4},{"v":5.5,"a":5.4,"b":5.6},{"v":5.7,"a":5.6,"b":5.8},{"v":5.9,"a":5.8,"b":6},{"v":6.1,"a":6,"b":6.2},{"v":6.3,"a":6.2,"b":6.4},{"v":6.5,"a":6.4,"b":6.6},{"v":6.7,"a":6.6,"b":6.8},{"v":6.9,"a":6.8,"b":7},{"v":7.1,"a":7,"b":7.2},{"v":7.3,"a":7.2,"b":7.4},{"v":7.5,"a":7.4,"b":7.6},{"v":7.7,"a":7.6,"b":7.8},{"v":7.9,"a":7.8,"b":8},{"v":8.1,"a":8,"b":8.2},{"v":8.3,"a":8.2,"b":8.4},{"v":8.5,"a":8.4,"b":8.6},{"v":8.7,"a":8.6,"b":8.8},{"v":8.9,"a":8.8,"b":9},{"v":9.1,"a":9,"b":9.2},{"v":9.3,"a":9.2,"b":9.4},{"v":9.5,"a":9.4,"b":9.6},{"v":9.7,"a":9.6,"b":9.8},{"v":9.9,"a":9.8,"b":10},{"v":10.1,"a":10,"b":10.2},{"v":10.3,"a":10.2,"b":10.4},{"v":10.5,"a":10.4,"b":10.6},{"v":10.7,"a":10.6,"b":10.8},{"v":10.9,"a":10.8,"b":11},{"v":11.1,"a":11,"b":11.2},{"v":11.3,"a":11.2,"b":11.4},{"v":11.5,"a":11.4,"b":11.6},{"v":11.7,"a":11.6,"b":11.8},{"v":11.9,"a":11.8,"b":12},{"v":12.1,"a":12,"b":12.2},{"v":12.3,"a":12.2,"b":12.4},{"v":12.5,"a":12.4,"b":12.6},{"v":12.7,"a":12.6,"b":12.8},{"v":12.9,"a":12.8,"b":13},{"v":13.1,"a":13,"b":13.2},{"v":13.3,"a":13.2,"b":13.4},{"v":13.5,"a":13.4,"b":13.6},{"v":13.7,"a":13.6,"b":13.8},{"v":13.9,"a":13.8,"b":14},{"v":14.1,"a":14,"b":14.2},{"v":14.3,"a":14.2,"b":14.4},{"v":14.5,"a":14.4,"b":14.6},{"v":14.7,"a":14.6,"b":14.8},{"v":14.9,"a":14.8,"b":15},{"v":15.1,"a":15,"b":15.2},{"v":15.3,"a":15.2,"b":15.4},{"v":15.5,"a":15.4,"b":15.6},{"v":15.7,"a":15.6,"b":15.8},{"v":15.9,"a":15.8,"b":16},{"v":16.1,"a":16,"b":16.2},{"v":16.3,"a":16.2,"b":16.4},{"v":16.5,"a":16.4,"b":16.6},{"v":16.7,"a":16.6,"b":16.8},{"v":16.9,"a":16.8,"b":17},{"v":17.1,"a":17,"b":17.2},{"v":17.3,"a":17.2,"b":17.4},{"v":17.5,"a":17.4,"b":17.6},{"v":17.7,"a":17.6,"b":17.8},{"v":17.9,"a":17.8,"b":18}]
},
"layer":[
{"mark":{"type":"rect","fill":"#c9c9c9"},"encoding":{"x":{"datum":-2.264,"axis":null,"scale":{"domain":[0.09,23.64],"range":[64,634]}},"x2":{"datum":29.884},"y":{"datum":-223,"axis":null,"scale":{"domain":[0,1371],"range":[437.5,72]}},"y2":{"datum":1622}}},
{"data":{"name":"wind"},"mark":{"type":"rule","strokeWidth":1.6},"encoding":{"x":{"field":"t","type":"quantitative","axis":null,"scale":{"domain":[0.09,23.64],"range":[64,634]}},"x2":{"field":"e"},"y":{"field":"z","type":"quantitative","axis":null,"scale":{"domain":[0,1371],"range":[437.5,72]}},"y2":{"field":"f"},"color":{"field":"s","type":"ordinal","legend":null,"scale":{"domain":[0,1,2,3,4,5,6,7,8,9,10,11,12,13,14,15],"range":["#000000","#0020e0","#1070e0","#10b8e8","#20e8e0","#20e8b0","#20e070","#20e030","#30e020","#70e020","#c8e820","#f0e830","#f0a830","#f07020","#c82028","#eeeeee"]}}}},
{"data":{"name":"wind"},"mark":{"type":"point","shape":"circle","filled":true,"size":10,"opacity":1},"encoding":{"x":{"field":"e","type":"quantitative","axis":null,"scale":{"domain":[0.09,23.64],"range":[64,634]}},"y":{"field":"f","type":"quantitative","axis":null,"scale":{"domain":[0,1371],"range":[437.5,72]}},"color":{"field":"s","type":"ordinal","legend":null,"scale":{"domain":[0,1,2,3,4,5,6,7,8,9,10,11,12,13,14,15],"range":["#000000","#0020e0","#1070e0","#10b8e8","#20e8e0","#20e8b0","#20e070","#20e030","#30e020","#70e020","#c8e820","#f0e830","#f0a830","#f07020","#c82028","#eeeeee"]}}}},
{"mark":{"type":"rect","fill":null,"stroke":"#555","strokeWidth":2},"encoding":{"x":{"datum":0.09,"scale":{"domain":[0.09,23.64],"range":[64,634]},"axis":{"zindex":1,"orient":"bottom","offset":-506.5,"domain":false,"values":[1,2,3,4,5,6,7,8,9,10,11,12,13,14,15,16,17,18,19,20,21,22,23],"tickSize":-9,"tickColor":"#444","labelPadding":12,"labelFontSize":12,"labelFontWeight":"bold","labelColor":"#111","labelExpr":"datum.value<10?'0'+datum.value:''+datum.value"}},"x2":{"datum":23.64},"y":{"datum":0,"scale":{"domain":[0,1371],"range":[437.5,72]},"axis":{"zindex":1,"orient":"left","offset":-64,"domain":false,"values":[0,200,400,600,800,1000,1200],"format":"d","tickSize":-5,"tickColor":"#444","labelPadding":13,"labelFontSize":12,"labelColor":"#333"}},"y2":{"datum":1371}}},
{"mark":{"type":"rect","fill":null},"encoding":{"x":{"datum":0.09,"scale":{"domain":[0.09,23.64],"range":[64,634]},"axis":{"zindex":1,"orient":"top","offset":-72,"domain":false,"labels":false,"values":[1,2,3,4,5,6,7,8,9,10,11,12,13,14,15,16,17,18,19,20,21,22,23],"tickSize":-9,"tickColor":"#444"}},"x2":{"datum":23.64},"y":{"datum":0,"scale":{"domain":[0,1371],"range":[437.5,72]},"axis":{"zindex":1,"orient":"right","offset":-480,"domain":false,"labels":false,"values":[200,400,600,800,1000,1200],"tickSize":-5,"tickColor":"#444"}},"y2":{"datum":1371}}},
{"data":{"values":[{"t":-0.405,"e":7.24,"z":1260}]},"mark":{"type":"rule","color":"black","strokeWidth":4},"encoding":{"x":{"field":"t","type":"quantitative","axis":null,"scale":{"domain":[0.09,23.64],"range":[64,634]}},"x2":{"field":"e"},"y":{"field":"z","type":"quantitative","axis":null,"scale":{"domain":[0,1371],"range":[437.5,72]}}}},
{"data":{"values":[{"t":-0.405,"z":1260},{"t":7.24,"z":1260}]},"mark":{"type":"point","shape":"diamond","filled":true,"color":"black","size":150,"opacity":1},"encoding":{"x":{"field":"t","type":"quantitative","axis":null,"scale":{"domain":[0.09,23.64],"range":[64,634]}},"y":{"field":"z","type":"quantitative","axis":null,"scale":{"domain":[0,1371],"range":[437.5,72]}}}},
{"mark":{"type":"text","text":"Philadelphia Air Monitoring","fontSize":19.3,"fontWeight":"bold","color":"#111"},"encoding":{"x":{"datum":11.26,"axis":null,"scale":{"domain":[0.09,23.64],"range":[64,634]}},"y":{"datum":1540,"axis":null,"scale":{"domain":[0,1371],"range":[437.5,72]}}}},
{"mark":{"type":"text","text":"Height","align":"right","fontSize":13,"color":"#333"},"encoding":{"x":{"datum":-0.22,"axis":null,"scale":{"domain":[0.09,23.64],"range":[64,634]}},"y":{"datum":1479,"axis":null,"scale":{"domain":[0,1371],"range":[437.5,72]}}}},
{"mark":{"type":"text","text":"(m agl)","align":"right","fontSize":12.5,"color":"#333"},"encoding":{"x":{"datum":-0.22,"axis":null,"scale":{"domain":[0.09,23.64],"range":[64,634]}},"y":{"datum":1420,"axis":null,"scale":{"domain":[0,1371],"range":[437.5,72]}}}},
{"mark":{"type":"text","text":"PHL (\u00a0\u00a0\u00a0)","align":"left","fontSize":14.5,"fontWeight":"bold","color":"#111"},"encoding":{"x":{"datum":0.5,"axis":null,"scale":{"domain":[0.09,23.64],"range":[64,634]}},"y":{"datum":1427,"axis":null,"scale":{"domain":[0,1371],"range":[437.5,72]}}}},
{"mark":{"type":"text","text":"Date:\u00a0\u00a0\u00a07/17/1999","align":"right","fontSize":14.5,"fontWeight":"bold","color":"#111"},"encoding":{"x":{"datum":23.15,"axis":null,"scale":{"domain":[0.09,23.64],"range":[64,634]}},"y":{"datum":1427,"axis":null,"scale":{"domain":[0,1371],"range":[437.5,72]}}}},
{"mark":{"type":"text","text":"(a)","fontSize":17,"fontWeight":"bold","color":"#111","font":"Open Sans"},"encoding":{"x":{"datum":25.4,"axis":null,"scale":{"domain":[0.09,23.64],"range":[64,634]}},"y":{"datum":1483,"axis":null,"scale":{"domain":[0,1371],"range":[437.5,72]}}}},
{"mark":{"type":"text","text":"7/17/1999","align":"left","fontSize":13.3,"color":"#333"},"encoding":{"x":{"datum":0.05,"axis":null,"scale":{"domain":[0.09,23.64],"range":[64,634]}},"y":{"datum":-100,"axis":null,"scale":{"domain":[0,1371],"range":[437.5,72]}}}},
{"mark":{"type":"text","text":"Elev. (m):\u00a0\u00a08","align":"left","fontSize":15.5,"color":"#555"},"encoding":{"x":{"datum":0.42,"axis":null,"scale":{"domain":[0.09,23.64],"range":[64,634]}},"y":{"datum":-171,"axis":null,"scale":{"domain":[0,1371],"range":[437.5,72]}}}},
{"mark":{"type":"text","text":"Time (CUT)","align":"left","fontSize":11,"color":"#333"},"encoding":{"x":{"datum":10.45,"axis":null,"scale":{"domain":[0.09,23.64],"range":[64,634]}},"y":{"datum":-167,"axis":null,"scale":{"domain":[0,1371],"range":[437.5,72]}}}},
{"mark":{"type":"rect","fill":null,"stroke":"#444","strokeWidth":1.5},"encoding":{"x":{"datum":0,"axis":null,"scale":{"domain":[0,100],"range":[644,769]}},"x2":{"datum":100},"y":{"datum":0,"axis":null,"scale":{"domain":[0,100],"range":[254,72]}},"y2":{"datum":100}}},
{"mark":{"type":"rect","fill":null,"stroke":"#444","strokeWidth":1.5},"encoding":{"x":{"datum":0,"axis":null,"scale":{"domain":[0,100],"range":[644,769]}},"x2":{"datum":100},"y":{"datum":0,"axis":null,"scale":{"domain":[0,100],"range":[437.5,254]}},"y2":{"datum":100}}},
{"data":{"values":[{"a":10.4,"b":88,"c":80.4,"d":80.4,"w":"line"},{"a":50.4,"b":50.4,"c":21.4,"d":31.5,"w":"ten"},{"a":72,"b":72,"c":21.4,"d":72.5,"w":"fifty"},{"a":72,"b":63.2,"c":72.5,"d":61.5,"w":"head"},{"a":72,"b":80.8,"c":72.5,"d":61.5,"w":"head"}]},"mark":{"type":"rule","color":"#333","strokeWidth":1},"encoding":{"x":{"field":"a","type":"quantitative","axis":null,"scale":{"domain":[0,100],"range":[644,769]}},"x2":{"field":"b"},"y":{"field":"c","type":"quantitative","axis":null,"scale":{"domain":[0,100],"range":[254,72]}},"y2":{"field":"d"}}},
{"data":{"values":[{"a":50.2,"c":91.2,"d":96.7}]},"mark":{"type":"rule","color":"#111","strokeWidth":2},"encoding":{"x":{"field":"a","type":"quantitative","axis":null,"scale":{"domain":[0,100],"range":[644,769]}},"y":{"field":"c","type":"quantitative","axis":null,"scale":{"domain":[0,100],"range":[254,72]}},"y2":{"field":"d"}}},
{"data":{"values":[{"a":50.2,"c":96.7},{"a":50.4,"c":31.5}]},"mark":{"type":"point","shape":"triangle-up","filled":true,"color":"#111","size":14,"opacity":1},"encoding":{"x":{"field":"a","type":"quantitative","axis":null,"scale":{"domain":[0,100],"range":[644,769]}},"y":{"field":"c","type":"quantitative","axis":null,"scale":{"domain":[0,100],"range":[254,72]}}}},
{"data":{"values":[{"a":28,"c":21.4}]},"mark":{"type":"point","shape":"circle","color":"#222","size":14,"opacity":1},"encoding":{"x":{"field":"a","type":"quantitative","axis":null,"scale":{"domain":[0,100],"range":[644,769]}},"y":{"field":"c","type":"quantitative","axis":null,"scale":{"domain":[0,100],"range":[254,72]}}}},
{"data":{"values":[{"l":"North","a":50,"c":85.9},{"l":"Calm","a":28,"c":12.1},{"l":"10","a":49.6,"c":12.1},{"l":"50","a":71.2,"c":12.1},{"l":"m/s","a":50,"c":4.9},{"l":"m/s","a":72,"c":4.9}]},"mark":{"type":"text","fontSize":10.5,"color":"#333"},"encoding":{"text":{"field":"l"},"x":{"field":"a","type":"quantitative","axis":null,"scale":{"domain":[0,100],"range":[644,769]}},"y":{"field":"c","type":"quantitative","axis":null,"scale":{"domain":[0,100],"range":[254,72]}}}},
{"data":{"values":[{"s":15,"lo":14.3,"hi":15.2},{"s":14,"lo":13.3,"hi":14.3},{"s":13,"lo":12.3,"hi":13.3},{"s":12,"lo":11.3,"hi":12.3},{"s":11,"lo":10.1,"hi":11.3},{"s":10,"lo":9.3,"hi":10.1},{"s":9,"lo":8.3,"hi":9.3},{"s":8,"lo":7.1,"hi":8.3},{"s":7,"lo":6,"hi":7.1},{"s":6,"lo":5.1,"hi":6},{"s":5,"lo":4.3,"hi":5.1},{"s":4,"lo":3.3,"hi":4.3},{"s":3,"lo":2.3,"hi":3.3},{"s":2,"lo":1.3,"hi":2.3},{"s":1,"lo":0.2,"hi":1.3},{"s":0,"lo":-0.9,"hi":0.2}]},"mark":{"type":"rect"},"encoding":{"x":{"datum":0,"axis":null,"scale":{"domain":[0,1],"range":[669.3,709.3]}},"x2":{"datum":1},"y":{"field":"lo","type":"quantitative","scale":{"domain":[0,14],"range":[419.7,289]},"axis":{"zindex":1,"orient":"right","offset":-404.7,"domain":false,"values":[2,4,6,8,10,12,14],"tickSize":4,"tickColor":"#444","labelPadding":7,"labelFontSize":11.5,"labelColor":"#333"}},"y2":{"field":"hi"},"color":{"field":"s","type":"ordinal","legend":null,"scale":{"domain":[0,1,2,3,4,5,6,7,8,9,10,11,12,13,14,15],"range":["#000000","#0020e0","#1070e0","#10b8e8","#00e8e8","#10e8b0","#10e060","#10e020","#20e010","#70e000","#c8e800","#f0e800","#f0a010","#f05a10","#e82010","#eeeeee"]}}}},
{"data":{"values":[{"l":"Over","v":15.4},{"l":"Under","v":-0.9}]},"mark":{"type":"text","align":"left","fontSize":10.5,"color":"#333"},"encoding":{"text":{"field":"l"},"x":{"datum":1.28,"axis":null,"scale":{"domain":[0,1],"range":[669.3,709.3]}},"y":{"field":"v","type":"quantitative","axis":null,"scale":{"domain":[0,14],"range":[419.7,289]}}}},
{"mark":{"type":"text","text":"WS (m/s)","fontSize":11,"color":"#333"},"encoding":{"x":{"datum":0.89,"axis":null,"scale":{"domain":[0,1],"range":[669.3,709.3]}},"y":{"datum":16.6,"axis":null,"scale":{"domain":[0,14],"range":[419.7,289]}}}},
{"mark":{"type":"rect","fill":"white"},"encoding":{"x":{"datum":-33.9,"axis":null,"scale":{"domain":[1,450],"range":[437.7,1103]}},"x2":{"datum":458},"y":{"datum":-1.1,"axis":null,"scale":{"domain":[0.048,3.486],"range":[833.3,496.7]}},"y2":{"datum":3.81}}},
{"data":{"name":"heat"},"mark":{"type":"rect","width":22.7,"height":12.3},"encoding":{"x":{"field":"t","type":"quantitative","axis":null,"scale":{"domain":[1,450],"range":[437.7,1103]}},"y":{"field":"a","type":"quantitative","axis":null,"scale":{"domain":[0.048,3.486],"range":[833.3,496.7]}},"color":{"field":"v","type":"quantitative","legend":null,"scale":{"domain":[4,5.75,9.25,12.75,16.25,18],"range":["#00007f","#0000ff","#00ffff","#ffff00","#ff0000","#7f0000"],"interpolate":"rgb"}}}},
{"mark":{"type":"rect","fill":null,"stroke":"#999","strokeWidth":1},"encoding":{"x":{"datum":1,"scale":{"domain":[1,450],"range":[437.7,1103]},"axis":{"zindex":1,"orient":"bottom","offset":-110.7,"domain":false,"values":[50,100,150,200,250,300,350,400,450],"tickSize":-3,"tickColor":"#666","labelPadding":8,"labelFontSize":12.5,"labelColor":"#333","title":"Time (minutes)","titleFontSize":12,"titleFontWeight":"normal","titleColor":"#333","titlePadding":2}},"x2":{"datum":450},"y":{"datum":0.048,"scale":{"domain":[0.048,3.486],"range":[833.3,496.7]},"axis":{"zindex":1,"orient":"left","offset":-437.7,"domain":false,"values":[0.5,1,1.5,2,2.5,3],"format":"~g","tickSize":-3,"tickColor":"#666","labelPadding":7,"labelFontSize":13,"labelColor":"#333","title":"Altitude (km)","titleFontSize":12,"titleFontWeight":"normal","titleColor":"#333","titlePadding":8}},"y2":{"datum":3.486}}},
{"mark":{"type":"rect","fill":null},"encoding":{"x":{"datum":1,"scale":{"domain":[1,450],"range":[437.7,1103]},"axis":{"zindex":1,"orient":"top","offset":-496.7,"domain":false,"labels":false,"values":[50,100,150,200,250,300,350,400,450],"tickSize":-3,"tickColor":"#666"}},"x2":{"datum":450},"y":{"datum":0.048,"scale":{"domain":[0.048,3.486],"range":[833.3,496.7]},"axis":{"zindex":1,"orient":"right","offset":-11,"domain":false,"labels":false,"values":[0.5,1,1.5,2,2.5,3],"tickSize":-3,"tickColor":"#666"}},"y2":{"datum":3.486}}},
{"mark":{"type":"text","text":"Water Vapor Mixing Ratio - 07/17/99 00:00 - 07:32 UTC","fontSize":19,"color":"#333"},"encoding":{"x":{"datum":225,"axis":null,"scale":{"domain":[1,450],"range":[437.7,1103]}},"y":{"datum":3.63,"axis":null,"scale":{"domain":[0.048,3.486],"range":[833.3,496.7]}}}},
{"mark":{"type":"text","text":"(b)","fontSize":16.5,"fontWeight":"bold","color":"#111","font":"Open Sans"},"encoding":{"x":{"datum":31.5,"axis":null,"scale":{"domain":[1,450],"range":[437.7,1103]}},"y":{"datum":3.2,"axis":null,"scale":{"domain":[0.048,3.486],"range":[833.3,496.7]}}}},
{"data":{"name":"cbar"},"mark":{"type":"rect"},"encoding":{"x":{"field":"a","type":"quantitative","scale":{"domain":[4,18],"range":[438,1103]},"axis":{"zindex":1,"orient":"bottom","offset":-38.3,"domain":false,"values":[4,6,8,10,12,14,16,18],"tickSize":-3,"tickColor":"#555","labelPadding":9,"labelFontSize":13,"labelColor":"#333","title":"Water Vapor Mixing Ratio (g/kg)","titleFontSize":15,"titleFontWeight":"normal","titleColor":"#333","titlePadding":1}},"x2":{"field":"b"},"y":{"datum":0,"axis":null,"scale":{"domain":[0,1],"range":[905.7,875.7]}},"y2":{"datum":1},"color":{"field":"v","type":"quantitative","legend":null,"scale":{"domain":[4,5.75,9.25,12.75,16.25,18],"range":["#00007f","#0000ff","#00ffff","#ffff00","#ff0000","#7f0000"],"interpolate":"rgb"}}}},
{"mark":{"type":"rect","fill":null,"stroke":"#777","strokeWidth":1},"encoding":{"x":{"datum":4,"scale":{"domain":[4,18],"range":[438,1103]},"axis":{"zindex":1,"orient":"top","offset":-875.7,"domain":false,"labels":false,"values":[6,8,10,12,14,16],"tickSize":-3,"tickColor":"#555"}},"x2":{"datum":18},"y":{"datum":0,"axis":null,"scale":{"domain":[0,1],"range":[905.7,875.7]}},"y2":{"datum":1}}}
]}
